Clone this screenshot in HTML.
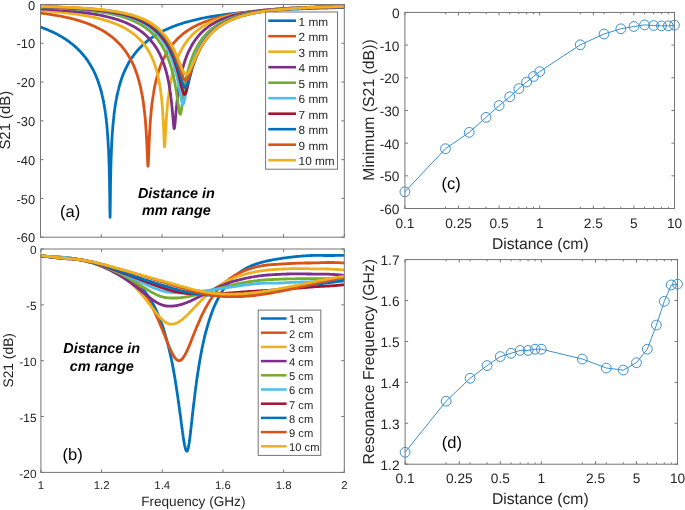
<!DOCTYPE html>
<html><head><meta charset="utf-8"><style>
html,body{margin:0;padding:0;background:#fff;}
body{width:685px;height:510px;overflow:hidden;}
svg{display:block;filter:blur(0.3px);}
text{font-family:"Liberation Sans", sans-serif;text-rendering:geometricPrecision;}
</style></head><body>
<svg width="685" height="510" viewBox="0 0 685 510" font-family='"Liberation Sans", sans-serif'>
<rect width="685" height="510" fill="#fff"/>
<defs><clipPath id="ca"><rect x="40.5" y="3.5" width="303.8" height="233.7"/></clipPath>
<clipPath id="cb"><rect x="40.9" y="248" width="303.4" height="224.4"/></clipPath></defs>
<g clip-path="url(#ca)" fill="none" stroke-width="2.8" stroke-linejoin="round" stroke-linecap="round">
<path d="M40.5 27L41.5 27.4L42.5 27.8L43.5 28.2L44.6 28.6L45.6 29L46.6 29.4L47.6 29.8L48.6 30.2L49.6 30.7L50.6 31.1L51.6 31.6L52.7 32L53.7 32.5L54.7 33L55.7 33.5L56.7 34L57.7 34.6L58.7 35.1L59.7 35.7L60.8 36.3L61.8 36.9L62.8 37.5L63.8 38.1L64.8 38.8L65.8 39.4L66.8 40.1L67.8 40.8L68.9 41.5L69.9 42.3L70.9 43.1L71.9 43.8L72.9 44.7L73.9 45.5L74.9 46.4L75.9 47.3L77 48.2L78 49.2L79 50.2L80 51.3L81 52.3L82 53.5L83 54.6L84 55.9L85.1 57.1L86.1 58.5L87.1 59.9L88.1 61.3L89.1 62.9L90.1 64.5L91.1 66.2L92.1 68L93.2 69.9L94.2 72L95.2 74.1L96.2 76.5L97.2 79L98.2 81.7L99.2 84.7L100.2 88L101 90.5L101.1 91L101.3 91.6L101.4 92.2L101.6 92.8L101.7 93.4L101.9 94L102 94.6L102.2 95.3L102.3 95.7L102.3 95.9L102.5 96.6L102.6 97.3L102.8 98L102.9 98.7L103.1 99.4L103.2 100.1L103.3 100.4L103.4 100.9L103.5 101.6L103.7 102.4L103.8 103.2L104 104.1L104.1 104.9L104.3 105.8L104.4 106.7L104.6 107.6L104.8 108.6L104.9 109.5L105.1 110.5L105.2 111.6L105.3 112.3L105.4 112.6L105.5 113.7L105.7 114.9L105.8 116L106 117.3L106.1 118.5L106.3 119.8L106.3 120.3L106.4 121.2L106.6 122.6L106.7 124.1L106.9 125.7L107 127.3L107.2 129L107.3 130.9L107.5 132.8L107.6 134.8L107.8 137L107.9 139.3L108.1 141.7L108.2 144.4L108.3 146.3L108.4 147.3L108.6 150.4L108.7 153.9L108.9 157.8L109 162.1L109.2 167.1L109.3 172.9L109.4 175L109.5 179.7L109.6 188.1L109.8 198.4L109.9 210.3L110.1 217.4L110.2 208.9L110.4 195.6L110.5 184.7L110.7 176.1L110.8 169.1L111 163.3L111.1 158.3L111.3 153.9L111.4 151.3L111.4 150L111.6 146.5L111.7 143.4L111.9 140.5L112 137.8L112.2 135.3L112.3 133L112.4 132.3L112.5 130.9L112.7 128.8L112.8 126.9L113 125.1L113.1 123.4L113.3 121.7L113.4 120.2L113.6 118.7L113.7 117.3L113.9 115.9L114 114.6L114.2 113.3L114.3 112.1L114.4 111.3L114.5 110.9L114.6 109.8L114.8 108.7L114.9 107.6L115.1 106.6L115.2 105.6L115.4 104.6L115.4 104.3L115.5 103.7L115.7 102.7L115.8 101.8L116 101L116.1 100.1L116.3 99.3L116.5 98.5L116.6 97.7L116.8 96.9L116.9 96.2L117.1 95.4L117.2 94.7L117.4 94L117.5 93.5L117.5 93.3L117.7 92.6L117.8 92L118 91.3L118.1 90.7L118.3 90.1L118.4 89.5L118.5 89.2L118.6 88.8L118.7 88.3L118.9 87.7L119 87.1L119.2 86.5L119.5 85.4L120.5 82L121.5 79L122.5 76.1L123.5 73.5L124.6 71.1L125.6 68.9L126.6 66.8L127.6 64.9L128.6 63L129.6 61.3L130.6 59.7L131.6 58.1L132.7 56.6L133.7 55.2L134.7 53.9L135.7 52.6L136.7 51.4L137.7 50.2L138.7 49.1L139.7 48L140.8 46.9L141.8 45.9L142.8 45L143.8 44L144.8 43.1L145.8 42.3L146.8 41.4L147.8 40.6L148.9 39.8L149.9 39.1L150.9 38.3L151.9 37.6L152.9 36.9L153.9 36.3L154.9 35.6L155.9 35L157 34.4L158 33.8L159 33.2L160 32.6L161 32.1L162 31.6L163 31L164 30.5L165.1 30L166.1 29.6L167.1 29.1L168.1 28.7L169.1 28.2L170.1 27.8L171.1 27.4L172.1 26.9L173.2 26.5L174.2 26.2L175.2 25.8L176.2 25.4L177.2 25L178.2 24.7L179.2 24.3L180.2 24L181.3 23.7L182.3 23.4L183.3 23L184.3 22.7L185.3 22.4L186.3 22.1L187.3 21.9L188.3 21.6L189.4 21.3L190.4 21L191.4 20.8L192.4 20.5L193.4 20.3L194.4 20L195.4 19.8L196.5 19.5L197.5 19.3L198.5 19.1L199.5 18.9L200.5 18.6L201.5 18.4L202.5 18.2L203.5 18L204.6 17.8L205.6 17.6L206.6 17.4L207.6 17.2L208.6 17.1L209.6 16.9L210.6 16.7L211.6 16.5L212.7 16.4L213.7 16.2L214.7 16L215.7 15.9L216.7 15.7L217.7 15.6L218.7 15.4L219.7 15.3L220.8 15.1L221.8 15L222.8 14.8L223.8 14.7L224.8 14.6L225.8 14.4L226.8 14.3L227.8 14.2L228.9 14L229.9 13.9L230.9 13.8L231.9 13.7L232.9 13.6L233.9 13.5L234.9 13.3L235.9 13.2L237 13.1L238 13L239 12.9L240 12.8L241 12.7L242 12.6L243 12.5L244 12.4L245.1 12.3L246.1 12.2L247.1 12.1L248.1 12L249.1 12L250.1 11.9L251.1 11.8L252.1 11.7L253.2 11.6L254.2 11.5L255.2 11.5L256.2 11.4L257.2 11.3L258.2 11.2L259.2 11.1L260.2 11.1L261.3 11L262.3 10.9L263.3 10.9L264.3 10.8L265.3 10.7L266.3 10.6L267.3 10.6L268.4 10.5L269.4 10.5L270.4 10.4L271.4 10.3L272.4 10.3L273.4 10.2L274.4 10.1L275.4 10.1L276.5 10L277.5 10L278.5 9.9L279.5 9.9L280.5 9.8L281.5 9.8L282.5 9.7L283.5 9.6L284.6 9.6L285.6 9.5L286.6 9.5L287.6 9.4L288.6 9.4L289.6 9.3L290.6 9.3L291.6 9.3L292.7 9.2L293.7 9.2L294.7 9.1L295.7 9.1L296.7 9L297.7 9L298.7 8.9L299.7 8.9L300.8 8.9L301.8 8.8L302.8 8.8L303.8 8.7L304.8 8.7L305.8 8.7L306.8 8.6L307.8 8.6L308.9 8.6L309.9 8.5L310.9 8.5L311.9 8.4L312.9 8.4L313.9 8.4L314.9 8.3L315.9 8.3L317 8.3L318 8.2L319 8.2L320 8.2L321 8.1L322 8.1L323 8.1L324 8.1L325.1 8L326.1 8L327.1 8L328.1 7.9L329.1 7.9L330.1 7.9L331.1 7.9L332.1 7.8L333.2 7.8L334.2 7.8L335.2 7.7L336.2 7.7L337.2 7.7L338.2 7.7L339.2 7.6L340.2 7.6L341.3 7.6L342.3 7.6L343.3 7.5L344.3 7.5" stroke="#0072BD"/>
<path d="M40.5 13.1L41.5 13.2L42.5 13.3L43.5 13.4L44.6 13.6L45.6 13.7L46.6 13.9L47.6 14L48.6 14.2L49.6 14.3L50.6 14.5L51.6 14.6L52.7 14.8L53.7 15L54.7 15.1L55.7 15.3L56.7 15.5L57.7 15.7L58.7 15.8L59.7 16L60.8 16.2L61.8 16.4L62.8 16.6L63.8 16.8L64.8 17L65.8 17.3L66.8 17.5L67.8 17.7L68.9 17.9L69.9 18.2L70.9 18.4L71.9 18.7L72.9 18.9L73.9 19.2L74.9 19.5L75.9 19.8L77 20L78 20.3L79 20.6L80 20.9L81 21.3L82 21.6L83 21.9L84 22.3L85.1 22.6L86.1 23L87.1 23.3L88.1 23.7L89.1 24.1L90.1 24.5L91.1 24.9L92.1 25.4L93.2 25.8L94.2 26.3L95.2 26.7L96.2 27.2L97.2 27.7L98.2 28.2L99.2 28.7L100.2 29.3L101.3 29.8L102.3 30.4L103.3 31L104.3 31.6L105.3 32.2L106.3 32.9L107.3 33.6L108.3 34.3L109.4 35L110.4 35.8L111.4 36.5L112.4 37.3L113.4 38.2L114.4 39L115.4 39.9L116.5 40.9L117.5 41.9L118.5 42.9L119.5 43.9L120.5 45L121.5 46.2L122.5 47.4L123.5 48.6L124.6 50L125.6 51.3L126.6 52.8L127.6 54.3L128.6 56L129.6 57.7L130.6 59.5L131.6 61.5L132.7 63.5L133.7 65.7L134.7 68.1L135.7 70.7L136.7 73.5L137.7 76.6L138.7 80.1L138.9 80.8L139.1 81.3L139.2 81.9L139.4 82.5L139.5 83.1L139.7 83.7L139.7 83.9L139.8 84.3L140 84.9L140.1 85.5L140.3 86.2L140.5 86.8L140.6 87.5L140.8 88.2L140.9 88.9L141.1 89.6L141.2 90.3L141.4 91.1L141.5 91.8L141.7 92.6L141.8 93.1L141.8 93.4L142 94.2L142.1 95L142.3 95.9L142.4 96.8L142.6 97.7L142.7 98.6L142.8 98.9L142.9 99.6L143 100.6L143.2 101.6L143.3 102.6L143.5 103.7L143.6 104.8L143.8 105.9L143.9 107.1L144.1 108.4L144.2 109.6L144.4 111L144.6 112.3L144.7 113.8L144.8 114.7L144.9 115.3L145 116.8L145.2 118.4L145.3 120.1L145.5 121.9L145.6 123.8L145.8 125.8L145.8 126.5L145.9 127.9L146.1 130.1L146.2 132.5L146.4 135L146.5 137.7L146.7 140.5L146.8 143.5L147 146.7L147.1 150.1L147.3 153.6L147.4 157.2L147.6 160.5L147.7 163.5L147.8 164.9L147.9 165.5L148 166.2L148.2 165.3L148.3 162.7L148.5 159.1L148.7 155.1L148.8 151L148.9 149.7L149 147.1L149.1 143.4L149.3 139.9L149.4 136.7L149.6 133.7L149.7 131L149.9 128.4L150 125.9L150.2 123.7L150.3 121.5L150.5 119.5L150.6 117.6L150.8 115.7L150.9 114.6L150.9 114L151.1 112.4L151.2 110.8L151.4 109.3L151.5 107.8L151.7 106.4L151.8 105.1L151.9 104.7L152 103.8L152.1 102.6L152.3 101.4L152.5 100.2L152.6 99.1L152.8 98L152.9 97L153.1 96L153.2 95L153.4 94L153.5 93.1L153.7 92.2L153.8 91.3L153.9 90.7L154 90.5L154.1 89.6L154.3 88.8L154.4 88L154.6 87.2L154.7 86.5L154.9 85.7L154.9 85.5L155 85L155.2 84.3L155.3 83.6L155.5 82.9L155.6 82.2L155.8 81.6L155.9 80.9L156.1 80.3L156.2 79.7L156.4 79.1L156.6 78.5L156.7 77.9L156.9 77.3L157 76.9L157 76.7L157.2 76.2L158 73.4L159 70.2L160 67.3L161 64.6L162 62.1L163 59.9L164 57.8L165.1 55.8L166.1 53.9L167.1 52.2L168.1 50.6L169.1 49L170.1 47.6L171.1 46.2L172.1 44.9L173.2 43.6L174.2 42.4L175.2 41.3L176.2 40.2L177.2 39.1L178.2 38.1L179.2 37.2L180.2 36.3L181.3 35.4L182.3 34.5L183.3 33.7L184.3 32.9L185.3 32.2L186.3 31.5L187.3 30.8L188.3 30.1L189.4 29.4L190.4 28.8L191.4 28.2L192.4 27.6L193.4 27.1L194.4 26.5L195.4 26L196.5 25.5L197.5 25L198.5 24.5L199.5 24.1L200.5 23.6L201.5 23.2L202.5 22.7L203.5 22.3L204.6 21.9L205.6 21.6L206.6 21.2L207.6 20.8L208.6 20.5L209.6 20.1L210.6 19.8L211.6 19.5L212.7 19.2L213.7 18.9L214.7 18.6L215.7 18.3L216.7 18L217.7 17.7L218.7 17.5L219.7 17.2L220.8 17L221.8 16.7L222.8 16.5L223.8 16.3L224.8 16L225.8 15.8L226.8 15.6L227.8 15.4L228.9 15.2L229.9 15L230.9 14.8L231.9 14.6L232.9 14.5L233.9 14.3L234.9 14.1L235.9 13.9L237 13.8L238 13.6L239 13.5L240 13.3L241 13.2L242 13L243 12.9L244 12.7L245.1 12.6L246.1 12.5L247.1 12.3L248.1 12.2L249.1 12.1L250.1 12L251.1 11.8L252.1 11.7L253.2 11.6L254.2 11.5L255.2 11.4L256.2 11.3L257.2 11.2L258.2 11.1L259.2 11L260.2 10.9L261.3 10.8L262.3 10.7L263.3 10.6L264.3 10.5L265.3 10.4L266.3 10.3L267.3 10.3L268.4 10.2L269.4 10.1L270.4 10L271.4 9.9L272.4 9.9L273.4 9.8L274.4 9.7L275.4 9.6L276.5 9.6L277.5 9.5L278.5 9.4L279.5 9.4L280.5 9.3L281.5 9.2L282.5 9.2L283.5 9.1L284.6 9.1L285.6 9L286.6 8.9L287.6 8.9L288.6 8.8L289.6 8.8L290.6 8.7L291.6 8.7L292.7 8.6L293.7 8.6L294.7 8.5L295.7 8.5L296.7 8.4L297.7 8.4L298.7 8.3L299.7 8.3L300.8 8.2L301.8 8.2L302.8 8.2L303.8 8.1L304.8 8.1L305.8 8L306.8 8L307.8 7.9L308.9 7.9L309.9 7.9L310.9 7.8L311.9 7.8L312.9 7.8L313.9 7.7L314.9 7.7L315.9 7.7L317 7.6L318 7.6L319 7.6L320 7.5L321 7.5L322 7.5L323 7.4L324 7.4L325.1 7.4L326.1 7.3L327.1 7.3L328.1 7.3L329.1 7.2L330.1 7.2L331.1 7.2L332.1 7.2L333.2 7.1L334.2 7.1L335.2 7.1L336.2 7.1L337.2 7L338.2 7L339.2 7L340.2 7L341.3 6.9L342.3 6.9L343.3 6.9L344.3 6.9" stroke="#D95319"/>
<path d="M40.5 10.6L41.5 10.7L42.5 10.7L43.5 10.8L44.6 10.9L45.6 11L46.6 11L47.6 11.1L48.6 11.2L49.6 11.3L50.6 11.4L51.6 11.5L52.7 11.5L53.7 11.6L54.7 11.7L55.7 11.8L56.7 11.9L57.7 12L58.7 12.1L59.7 12.2L60.8 12.3L61.8 12.4L62.8 12.5L63.8 12.6L64.8 12.8L65.8 12.9L66.8 13L67.8 13.1L68.9 13.2L69.9 13.4L70.9 13.5L71.9 13.6L72.9 13.8L73.9 13.9L74.9 14L75.9 14.2L77 14.3L78 14.5L79 14.6L80 14.8L81 14.9L82 15.1L83 15.3L84 15.4L85.1 15.6L86.1 15.8L87.1 16L88.1 16.2L89.1 16.4L90.1 16.6L91.1 16.8L92.1 17L93.2 17.2L94.2 17.4L95.2 17.6L96.2 17.9L97.2 18.1L98.2 18.4L99.2 18.6L100.2 18.9L101.3 19.1L102.3 19.4L103.3 19.7L104.3 20L105.3 20.3L106.3 20.6L107.3 20.9L108.3 21.2L109.4 21.6L110.4 21.9L111.4 22.3L112.4 22.6L113.4 23L114.4 23.4L115.4 23.8L116.5 24.2L117.5 24.6L118.5 25.1L119.5 25.5L120.5 26L121.5 26.5L122.5 27L123.5 27.5L124.6 28.1L125.6 28.6L126.6 29.2L127.6 29.8L128.6 30.5L129.6 31.1L130.6 31.8L131.6 32.5L132.7 33.2L133.7 34L134.7 34.8L135.7 35.7L136.7 36.5L137.7 37.5L138.7 38.4L139.7 39.4L140.8 40.5L141.8 41.6L142.8 42.8L143.8 44L144.8 45.4L145.8 46.8L146.8 48.2L147.8 49.8L148.9 51.5L149.9 53.4L150.9 55.3L151.9 57.5L152.9 59.8L153.9 62.3L154.9 65.2L155.3 66.4L155.5 66.9L155.6 67.3L155.8 67.8L155.9 68.3L156.1 68.8L156.2 69.3L156.4 69.9L156.6 70.4L156.7 70.9L156.9 71.5L157 71.9L157 72.1L157.2 72.6L157.3 73.2L157.5 73.8L157.6 74.5L157.8 75.1L157.9 75.7L158 76L158.1 76.4L158.2 77.1L158.4 77.8L158.5 78.5L158.7 79.2L158.8 80L159 80.7L159.1 81.5L159.3 82.3L159.4 83.2L159.6 84L159.7 84.9L159.9 85.8L160 86.5L160 86.8L160.2 87.8L160.3 88.8L160.5 89.8L160.7 90.9L160.8 92.1L161 93.2L161 93.6L161.1 94.5L161.3 95.7L161.4 97.1L161.6 98.5L161.7 100L161.9 101.5L162 103.1L162.2 104.8L162.3 106.7L162.5 108.6L162.6 110.7L162.8 112.9L162.9 115.2L163 116.9L163.1 117.8L163.2 120.5L163.4 123.5L163.5 126.7L163.7 130.2L163.8 134L164 137.9L164 139.2L164.1 141.8L164.3 145.1L164.5 146.8L164.6 146.4L164.8 145.1L164.9 143.1L165.1 140.7L165.2 138.1L165.4 135.3L165.5 132.5L165.7 129.8L165.8 127.2L166 124.7L166.1 123.1L166.1 122.3L166.3 120L166.4 117.8L166.6 115.7L166.7 113.8L166.9 111.9L167 110.1L167.1 109.5L167.2 108.4L167.3 106.7L167.5 105.1L167.6 103.6L167.8 102.2L167.9 100.8L168.1 99.5L168.2 98.2L168.4 96.9L168.6 95.7L168.7 94.6L168.9 93.4L169 92.3L169.1 91.6L169.2 91.3L169.3 90.3L169.5 89.3L169.6 88.3L169.8 87.4L169.9 86.4L170.1 85.6L170.1 85.3L170.2 84.7L170.4 83.8L170.5 83L170.7 82.2L170.8 81.4L171 80.6L171.1 79.9L171.3 79.2L171.4 78.4L171.6 77.7L171.7 77.1L171.9 76.4L172 75.7L172.1 75.3L172.2 75.1L172.3 74.4L172.5 73.8L172.7 73.2L172.8 72.6L173 72L173.1 71.4L173.2 71.2L173.3 70.9L173.4 70.3L173.6 69.8L174.2 67.6L175.2 64.4L176.2 61.5L177.2 58.8L178.2 56.4L179.2 54.1L180.2 52L181.3 50.1L182.3 48.2L183.3 46.5L184.3 44.9L185.3 43.4L186.3 42L187.3 40.6L188.3 39.3L189.4 38.1L190.4 37L191.4 35.9L192.4 34.8L193.4 33.8L194.4 32.9L195.4 32L196.5 31.1L197.5 30.3L198.5 29.5L199.5 28.8L200.5 28L201.5 27.3L202.5 26.7L203.5 26L204.6 25.4L205.6 24.8L206.6 24.2L207.6 23.7L208.6 23.2L209.6 22.7L210.6 22.2L211.6 21.7L212.7 21.2L213.7 20.8L214.7 20.4L215.7 20L216.7 19.6L217.7 19.2L218.7 18.8L219.7 18.5L220.8 18.1L221.8 17.8L222.8 17.5L223.8 17.2L224.8 16.9L225.8 16.6L226.8 16.3L227.8 16L228.9 15.8L229.9 15.5L230.9 15.3L231.9 15L232.9 14.8L233.9 14.6L234.9 14.4L235.9 14.2L237 13.9L238 13.7L239 13.6L240 13.4L241 13.2L242 13L243 12.8L244 12.7L245.1 12.5L246.1 12.4L247.1 12.2L248.1 12L249.1 11.9L250.1 11.8L251.1 11.6L252.1 11.5L253.2 11.4L254.2 11.2L255.2 11.1L256.2 11L257.2 10.9L258.2 10.8L259.2 10.6L260.2 10.5L261.3 10.4L262.3 10.3L263.3 10.2L264.3 10.1L265.3 10L266.3 9.9L267.3 9.8L268.4 9.8L269.4 9.7L270.4 9.6L271.4 9.5L272.4 9.4L273.4 9.3L274.4 9.3L275.4 9.2L276.5 9.1L277.5 9L278.5 9L279.5 8.9L280.5 8.8L281.5 8.8L282.5 8.7L283.5 8.6L284.6 8.6L285.6 8.5L286.6 8.5L287.6 8.4L288.6 8.3L289.6 8.3L290.6 8.2L291.6 8.2L292.7 8.1L293.7 8.1L294.7 8L295.7 8L296.7 7.9L297.7 7.9L298.7 7.8L299.7 7.8L300.8 7.8L301.8 7.7L302.8 7.7L303.8 7.6L304.8 7.6L305.8 7.5L306.8 7.5L307.8 7.5L308.9 7.4L309.9 7.4L310.9 7.4L311.9 7.3L312.9 7.3L313.9 7.2L314.9 7.2L315.9 7.2L317 7.1L318 7.1L319 7.1L320 7.1L321 7L322 7L323 7L324 6.9L325.1 6.9L326.1 6.9L327.1 6.8L328.1 6.8L329.1 6.8L330.1 6.8L331.1 6.7L332.1 6.7L333.2 6.7L334.2 6.7L335.2 6.6L336.2 6.6L337.2 6.6L338.2 6.6L339.2 6.6L340.2 6.5L341.3 6.5L342.3 6.5L343.3 6.5L344.3 6.4" stroke="#EDB120"/>
<path d="M40.5 8.9L41.5 8.9L42.5 9L43.5 9.1L44.6 9.1L45.6 9.2L46.6 9.2L47.6 9.3L48.6 9.4L49.6 9.4L50.6 9.5L51.6 9.5L52.7 9.6L53.7 9.7L54.7 9.8L55.7 9.8L56.7 9.9L57.7 10L58.7 10L59.7 10.1L60.8 10.2L61.8 10.3L62.8 10.4L63.8 10.5L64.8 10.5L65.8 10.6L66.8 10.7L67.8 10.8L68.9 10.9L69.9 11L70.9 11.1L71.9 11.2L72.9 11.3L73.9 11.4L74.9 11.5L75.9 11.6L77 11.7L78 11.8L79 12L80 12.1L81 12.2L82 12.3L83 12.5L84 12.6L85.1 12.7L86.1 12.9L87.1 13L88.1 13.2L89.1 13.3L90.1 13.5L91.1 13.6L92.1 13.8L93.2 13.9L94.2 14.1L95.2 14.3L96.2 14.5L97.2 14.6L98.2 14.8L99.2 15L100.2 15.2L101.3 15.4L102.3 15.6L103.3 15.8L104.3 16.1L105.3 16.3L106.3 16.5L107.3 16.8L108.3 17L109.4 17.3L110.4 17.5L111.4 17.8L112.4 18.1L113.4 18.4L114.4 18.7L115.4 19L116.5 19.3L117.5 19.6L118.5 19.9L119.5 20.3L120.5 20.6L121.5 21L122.5 21.4L123.5 21.8L124.6 22.2L125.6 22.6L126.6 23L127.6 23.5L128.6 24L129.6 24.4L130.6 24.9L131.6 25.5L132.7 26L133.7 26.6L134.7 27.1L135.7 27.7L136.7 28.4L137.7 29L138.7 29.7L139.7 30.4L140.8 31.1L141.8 31.9L142.8 32.7L143.8 33.5L144.8 34.4L145.8 35.3L146.8 36.2L147.8 37.2L148.9 38.3L149.9 39.4L150.9 40.6L151.9 41.8L152.9 43.1L153.9 44.4L154.9 45.9L155.9 47.4L157 49L158 50.8L159 52.7L160 54.7L161 56.8L162 59.2L163 61.8L164 64.6L165.1 67.7L165.2 68.2L165.4 68.7L165.5 69.2L165.7 69.8L165.8 70.3L166 70.8L166.1 71.2L166.1 71.4L166.3 72L166.4 72.5L166.6 73.1L166.7 73.7L166.9 74.3L167 74.9L167.1 75.1L167.2 75.6L167.3 76.2L167.5 76.9L167.6 77.5L167.8 78.2L167.9 78.9L168.1 79.7L168.2 80.4L168.4 81.1L168.6 81.9L168.7 82.7L168.9 83.5L169 84.4L169.1 84.9L169.2 85.2L169.3 86.1L169.5 87L169.6 87.9L169.8 88.9L169.9 89.9L170.1 90.9L170.1 91.2L170.2 91.9L170.4 93L170.5 94.1L170.7 95.2L170.8 96.4L171 97.6L171.1 98.9L171.3 100.2L171.4 101.6L171.6 103L171.7 104.4L171.9 105.9L172 107.5L172.1 108.6L172.2 109.1L172.3 110.8L172.5 112.5L172.7 114.3L172.8 116.1L173 117.9L173.1 119.7L173.2 120.3L173.3 121.5L173.4 123.3L173.6 124.9L173.7 126.3L173.9 127.5L174 128.3L174.2 128.6L174.3 128.4L174.5 127.9L174.6 127L174.8 125.8L174.9 124.4L175.1 122.8L175.2 121.7L175.2 121.2L175.4 119.4L175.5 117.6L175.7 115.9L175.8 114.1L176 112.3L176.1 110.6L176.2 110L176.3 108.9L176.5 107.3L176.6 105.7L176.8 104.2L176.9 102.7L177.1 101.2L177.2 99.8L177.4 98.5L177.5 97.2L177.7 95.9L177.8 94.7L178 93.5L178.1 92.3L178.2 91.6L178.3 91.2L178.4 90.1L178.6 89.1L178.7 88L178.9 87L179 86.1L179.2 85.1L179.2 84.8L179.3 84.2L179.5 83.3L179.6 82.4L179.8 81.5L179.9 80.7L180.1 79.9L180.2 79.1L180.4 78.3L180.6 77.6L180.7 76.8L180.9 76.1L181 75.4L181.2 74.7L181.3 74.2L181.3 74L181.5 73.3L181.6 72.6L181.8 72L181.9 71.4L182.1 70.7L182.2 70.1L182.3 69.9L182.4 69.5L182.5 69L182.7 68.4L182.8 67.8L183 67.3L183.1 66.7L183.3 66.2L184.3 62.8L185.3 59.7L186.3 57L187.3 54.4L188.3 52.1L189.4 50L190.4 48L191.4 46.1L192.4 44.3L193.4 42.7L194.4 41.2L195.4 39.7L196.5 38.4L197.5 37.1L198.5 35.9L199.5 34.7L200.5 33.6L201.5 32.6L202.5 31.6L203.5 30.7L204.6 29.8L205.6 28.9L206.6 28.1L207.6 27.4L208.6 26.6L209.6 25.9L210.6 25.2L211.6 24.6L212.7 24L213.7 23.4L214.7 22.8L215.7 22.3L216.7 21.7L217.7 21.2L218.7 20.7L219.7 20.3L220.8 19.8L221.8 19.4L222.8 19L223.8 18.6L224.8 18.2L225.8 17.8L226.8 17.5L227.8 17.1L228.9 16.8L229.9 16.5L230.9 16.2L231.9 15.9L232.9 15.6L233.9 15.3L234.9 15.1L235.9 14.8L237 14.6L238 14.3L239 14.1L240 13.9L241 13.7L242 13.4L243 13.2L244 13L245.1 12.8L246.1 12.7L247.1 12.5L248.1 12.3L249.1 12.1L250.1 12L251.1 11.8L252.1 11.7L253.2 11.5L254.2 11.4L255.2 11.2L256.2 11.1L257.2 11L258.2 10.8L259.2 10.7L260.2 10.6L261.3 10.5L262.3 10.4L263.3 10.2L264.3 10.1L265.3 10L266.3 9.9L267.3 9.8L268.4 9.7L269.4 9.6L270.4 9.5L271.4 9.4L272.4 9.4L273.4 9.3L274.4 9.2L275.4 9.1L276.5 9L277.5 8.9L278.5 8.9L279.5 8.8L280.5 8.7L281.5 8.7L282.5 8.6L283.5 8.5L284.6 8.5L285.6 8.4L286.6 8.3L287.6 8.3L288.6 8.2L289.6 8.2L290.6 8.1L291.6 8L292.7 8L293.7 7.9L294.7 7.9L295.7 7.8L296.7 7.8L297.7 7.7L298.7 7.7L299.7 7.6L300.8 7.6L301.8 7.5L302.8 7.5L303.8 7.5L304.8 7.4L305.8 7.4L306.8 7.3L307.8 7.3L308.9 7.3L309.9 7.2L310.9 7.2L311.9 7.1L312.9 7.1L313.9 7.1L314.9 7L315.9 7L317 7L318 6.9L319 6.9L320 6.9L321 6.8L322 6.8L323 6.8L324 6.8L325.1 6.7L326.1 6.7L327.1 6.7L328.1 6.6L329.1 6.6L330.1 6.6L331.1 6.6L332.1 6.5L333.2 6.5L334.2 6.5L335.2 6.5L336.2 6.5L337.2 6.4L338.2 6.4L339.2 6.4L340.2 6.4L341.3 6.3L342.3 6.3L343.3 6.3L344.3 6.3" stroke="#7E2F8E"/>
<path d="M40.5 7.3L41.5 7.4L42.5 7.4L43.5 7.5L44.6 7.5L45.6 7.5L46.6 7.6L47.6 7.6L48.6 7.7L49.6 7.7L50.6 7.8L51.6 7.8L52.7 7.9L53.7 7.9L54.7 8L55.7 8L56.7 8.1L57.7 8.1L58.7 8.2L59.7 8.2L60.8 8.3L61.8 8.3L62.8 8.4L63.8 8.5L64.8 8.5L65.8 8.6L66.8 8.6L67.8 8.7L68.9 8.8L69.9 8.8L70.9 8.9L71.9 9L72.9 9.1L73.9 9.1L74.9 9.2L75.9 9.3L77 9.4L78 9.5L79 9.6L80 9.6L81 9.7L82 9.8L83 9.9L84 10L85.1 10.1L86.1 10.2L87.1 10.3L88.1 10.4L89.1 10.5L90.1 10.7L91.1 10.8L92.1 10.9L93.2 11L94.2 11.1L95.2 11.3L96.2 11.4L97.2 11.6L98.2 11.7L99.2 11.8L100.2 12L101.3 12.1L102.3 12.3L103.3 12.5L104.3 12.6L105.3 12.8L106.3 13L107.3 13.2L108.3 13.4L109.4 13.6L110.4 13.8L111.4 14L112.4 14.2L113.4 14.4L114.4 14.7L115.4 14.9L116.5 15.1L117.5 15.4L118.5 15.7L119.5 15.9L120.5 16.2L121.5 16.5L122.5 16.8L123.5 17.1L124.6 17.4L125.6 17.8L126.6 18.1L127.6 18.5L128.6 18.8L129.6 19.2L130.6 19.6L131.6 20L132.7 20.5L133.7 20.9L134.7 21.4L135.7 21.9L136.7 22.4L137.7 22.9L138.7 23.4L139.7 24L140.8 24.6L141.8 25.2L142.8 25.8L143.8 26.5L144.8 27.2L145.8 27.9L146.8 28.7L147.8 29.5L148.9 30.3L149.9 31.1L150.9 32.1L151.9 33L152.9 34L153.9 35.1L154.9 36.2L155.9 37.3L157 38.5L158 39.8L159 41.2L160 42.7L161 44.2L162 45.8L163 47.6L164 49.4L165.1 51.4L166.1 53.5L167.1 55.8L168.1 58.3L169.1 61.1L170.1 64L171.1 67.3L171.3 67.8L171.4 68.3L171.6 68.9L171.7 69.4L171.9 70L172 70.5L172.1 70.9L172.2 71.1L172.3 71.7L172.5 72.3L172.7 72.9L172.8 73.5L173 74.1L173.1 74.7L173.2 75L173.3 75.4L173.4 76L173.6 76.7L173.7 77.4L173.9 78.1L174 78.8L174.2 79.5L174.3 80.3L174.5 81L174.6 81.8L174.8 82.5L174.9 83.3L175.1 84.1L175.2 84.7L175.2 85L175.4 85.8L175.5 86.7L175.7 87.6L175.8 88.5L176 89.4L176.1 90.3L176.2 90.6L176.3 91.3L176.5 92.2L176.6 93.2L176.8 94.2L176.9 95.2L177.1 96.3L177.2 97.3L177.4 98.4L177.5 99.5L177.7 100.6L177.8 101.7L178 102.8L178.1 103.9L178.2 104.6L178.3 105L178.4 106.1L178.6 107.2L178.7 108.2L178.9 109.2L179 110.1L179.2 111L179.2 111.3L179.3 111.8L179.5 112.5L179.6 113.1L179.8 113.6L179.9 114L180.1 114.2L180.2 114.3L180.4 114.2L180.6 113.9L180.7 113.5L180.9 113L181 112.3L181.2 111.6L181.3 111L181.3 110.7L181.5 109.7L181.6 108.7L181.8 107.6L181.9 106.5L182.1 105.4L182.2 104.2L182.3 103.8L182.4 103.1L182.5 101.9L182.7 100.7L182.8 99.6L183 98.4L183.1 97.3L183.3 96.2L183.4 95.1L183.6 94L183.7 93L183.9 91.9L184 90.9L184.2 89.9L184.3 89.3L184.3 88.9L184.5 88L184.7 87.1L184.8 86.1L185 85.2L185.1 84.4L185.3 83.5L185.3 83.2L185.4 82.7L185.6 81.8L185.7 81L185.9 80.3L186 79.5L186.2 78.7L186.3 78L186.5 77.2L186.6 76.5L186.8 75.8L186.9 75.1L187.1 74.5L187.2 73.8L187.3 73.4L187.4 73.2L187.5 72.5L187.7 71.9L187.8 71.3L188 70.7L188.1 70.1L188.3 69.5L188.3 69.3L188.5 68.9L188.6 68.4L188.8 67.8L188.9 67.2L189.1 66.7L189.2 66.2L189.4 65.7L190.4 62.4L191.4 59.4L192.4 56.7L193.4 54.2L194.4 51.9L195.4 49.8L196.5 47.8L197.5 46L198.5 44.2L199.5 42.6L200.5 41.1L201.5 39.7L202.5 38.3L203.5 37L204.6 35.8L205.6 34.7L206.6 33.6L207.6 32.6L208.6 31.6L209.6 30.6L210.6 29.8L211.6 28.9L212.7 28.1L213.7 27.3L214.7 26.6L215.7 25.9L216.7 25.2L217.7 24.6L218.7 24L219.7 23.4L220.8 22.8L221.8 22.2L222.8 21.7L223.8 21.2L224.8 20.7L225.8 20.3L226.8 19.8L227.8 19.4L228.9 19L229.9 18.6L230.9 18.2L231.9 17.8L232.9 17.5L233.9 17.1L234.9 16.8L235.9 16.5L237 16.2L238 15.9L239 15.6L240 15.3L241 15.1L242 14.8L243 14.6L244 14.3L245.1 14.1L246.1 13.9L247.1 13.7L248.1 13.4L249.1 13.2L250.1 13L251.1 12.9L252.1 12.7L253.2 12.5L254.2 12.3L255.2 12.1L256.2 12L257.2 11.8L258.2 11.7L259.2 11.5L260.2 11.4L261.3 11.2L262.3 11.1L263.3 11L264.3 10.8L265.3 10.7L266.3 10.6L267.3 10.5L268.4 10.4L269.4 10.2L270.4 10.1L271.4 10L272.4 9.9L273.4 9.8L274.4 9.7L275.4 9.6L276.5 9.5L277.5 9.4L278.5 9.4L279.5 9.3L280.5 9.2L281.5 9.1L282.5 9L283.5 9L284.6 8.9L285.6 8.8L286.6 8.7L287.6 8.7L288.6 8.6L289.6 8.5L290.6 8.5L291.6 8.4L292.7 8.3L293.7 8.3L294.7 8.2L295.7 8.2L296.7 8.1L297.7 8L298.7 8L299.7 7.9L300.8 7.9L301.8 7.8L302.8 7.8L303.8 7.7L304.8 7.7L305.8 7.6L306.8 7.6L307.8 7.5L308.9 7.5L309.9 7.5L310.9 7.4L311.9 7.4L312.9 7.3L313.9 7.3L314.9 7.3L315.9 7.2L317 7.2L318 7.1L319 7.1L320 7.1L321 7L322 7L323 7L324 6.9L325.1 6.9L326.1 6.9L327.1 6.8L328.1 6.8L329.1 6.8L330.1 6.8L331.1 6.7L332.1 6.7L333.2 6.7L334.2 6.7L335.2 6.6L336.2 6.6L337.2 6.6L338.2 6.5L339.2 6.5L340.2 6.5L341.3 6.5L342.3 6.5L343.3 6.4L344.3 6.4" stroke="#77AC30"/>
<path d="M40.5 7L41.5 7L42.5 7.1L43.5 7.1L44.6 7.1L45.6 7.2L46.6 7.2L47.6 7.3L48.6 7.3L49.6 7.3L50.6 7.4L51.6 7.4L52.7 7.5L53.7 7.5L54.7 7.5L55.7 7.6L56.7 7.6L57.7 7.7L58.7 7.7L59.7 7.8L60.8 7.8L61.8 7.9L62.8 7.9L63.8 8L64.8 8L65.8 8.1L66.8 8.1L67.8 8.2L68.9 8.3L69.9 8.3L70.9 8.4L71.9 8.5L72.9 8.5L73.9 8.6L74.9 8.7L75.9 8.7L77 8.8L78 8.9L79 8.9L80 9L81 9.1L82 9.2L83 9.3L84 9.3L85.1 9.4L86.1 9.5L87.1 9.6L88.1 9.7L89.1 9.8L90.1 9.9L91.1 10L92.1 10.1L93.2 10.2L94.2 10.3L95.2 10.4L96.2 10.6L97.2 10.7L98.2 10.8L99.2 10.9L100.2 11.1L101.3 11.2L102.3 11.3L103.3 11.5L104.3 11.6L105.3 11.8L106.3 11.9L107.3 12.1L108.3 12.3L109.4 12.4L110.4 12.6L111.4 12.8L112.4 13L113.4 13.2L114.4 13.4L115.4 13.6L116.5 13.8L117.5 14L118.5 14.2L119.5 14.5L120.5 14.7L121.5 15L122.5 15.2L123.5 15.5L124.6 15.8L125.6 16.1L126.6 16.4L127.6 16.7L128.6 17L129.6 17.3L130.6 17.7L131.6 18L132.7 18.4L133.7 18.8L134.7 19.2L135.7 19.6L136.7 20.1L137.7 20.5L138.7 21L139.7 21.5L140.8 22L141.8 22.5L142.8 23.1L143.8 23.6L144.8 24.2L145.8 24.9L146.8 25.5L147.8 26.2L148.9 26.9L149.9 27.7L150.9 28.4L151.9 29.3L152.9 30.1L153.9 31L154.9 32L155.9 32.9L157 34L158 35.1L159 36.2L160 37.5L161 38.7L162 40.1L163 41.6L164 43.1L165.1 44.7L166.1 46.5L167.1 48.3L168.1 50.3L169.1 52.4L170.1 54.7L171.1 57.2L172.1 59.9L173.2 62.9L173.9 65.1L174 65.6L174.2 66.1L174.3 66.6L174.5 67.1L174.6 67.7L174.8 68.2L174.9 68.7L175.1 69.3L175.2 69.7L175.2 69.9L175.4 70.4L175.5 71L175.7 71.6L175.8 72.2L176 72.8L176.1 73.4L176.2 73.6L176.3 74L176.5 74.7L176.6 75.3L176.8 76L176.9 76.6L177.1 77.3L177.2 78L177.4 78.7L177.5 79.4L177.7 80.1L177.8 80.8L178 81.6L178.1 82.3L178.2 82.8L178.3 83.1L178.4 83.9L178.6 84.7L178.7 85.5L178.9 86.3L179 87.1L179.2 87.9L179.2 88.2L179.3 88.8L179.5 89.6L179.6 90.4L179.8 91.3L179.9 92.2L180.1 93L180.2 93.9L180.4 94.7L180.6 95.6L180.7 96.4L180.9 97.2L181 98L181.2 98.8L181.3 99.3L181.3 99.6L181.5 100.3L181.6 100.9L181.8 101.6L181.9 102.1L182.1 102.7L182.2 103.1L182.3 103.2L182.4 103.5L182.5 103.8L182.7 104L182.8 104.1L183 104.2L183.1 104.1L183.3 104L183.4 103.8L183.6 103.5L183.7 103.1L183.9 102.6L184 102.1L184.2 101.5L184.3 101.1L184.3 100.9L184.5 100.2L184.7 99.4L184.8 98.7L185 97.9L185.1 97.1L185.3 96.2L185.3 96L185.4 95.4L185.6 94.5L185.7 93.7L185.9 92.8L186 91.9L186.2 91.1L186.3 90.2L186.5 89.3L186.6 88.5L186.8 87.7L186.9 86.8L187.1 86L187.2 85.2L187.3 84.6L187.4 84.4L187.5 83.6L187.7 82.8L187.8 82L188 81.3L188.1 80.5L188.3 79.8L188.3 79.5L188.5 79.1L188.6 78.4L188.8 77.7L188.9 77L189.1 76.3L189.2 75.6L189.4 75L189.5 74.3L189.7 73.7L189.8 73L190 72.4L190.1 71.8L190.3 71.2L190.4 70.8L190.4 70.6L190.6 70.1L190.7 69.5L190.9 68.9L191 68.4L191.2 67.8L191.3 67.3L191.4 67.1L191.5 66.8L191.6 66.2L191.8 65.7L191.9 65.2L192.1 64.7L192.4 63.8L193.4 60.7L194.4 57.9L195.4 55.3L196.5 53L197.5 50.8L198.5 48.7L199.5 46.8L200.5 45L201.5 43.4L202.5 41.8L203.5 40.3L204.6 38.9L205.6 37.6L206.6 36.4L207.6 35.2L208.6 34.1L209.6 33L210.6 32L211.6 31L212.7 30.1L213.7 29.3L214.7 28.4L215.7 27.6L216.7 26.9L217.7 26.2L218.7 25.5L219.7 24.8L220.8 24.2L221.8 23.6L222.8 23L223.8 22.4L224.8 21.9L225.8 21.4L226.8 20.9L227.8 20.4L228.9 20L229.9 19.5L230.9 19.1L231.9 18.7L232.9 18.3L233.9 18L234.9 17.6L235.9 17.2L237 16.9L238 16.6L239 16.3L240 16L241 15.7L242 15.4L243 15.1L244 14.9L245.1 14.6L246.1 14.4L247.1 14.1L248.1 13.9L249.1 13.7L250.1 13.5L251.1 13.3L252.1 13.1L253.2 12.9L254.2 12.7L255.2 12.5L256.2 12.3L257.2 12.2L258.2 12L259.2 11.8L260.2 11.7L261.3 11.5L262.3 11.4L263.3 11.2L264.3 11.1L265.3 11L266.3 10.8L267.3 10.7L268.4 10.6L269.4 10.5L270.4 10.4L271.4 10.2L272.4 10.1L273.4 10L274.4 9.9L275.4 9.8L276.5 9.7L277.5 9.6L278.5 9.5L279.5 9.4L280.5 9.4L281.5 9.3L282.5 9.2L283.5 9.1L284.6 9L285.6 8.9L286.6 8.9L287.6 8.8L288.6 8.7L289.6 8.7L290.6 8.6L291.6 8.5L292.7 8.5L293.7 8.4L294.7 8.3L295.7 8.3L296.7 8.2L297.7 8.1L298.7 8.1L299.7 8L300.8 8L301.8 7.9L302.8 7.9L303.8 7.8L304.8 7.8L305.8 7.7L306.8 7.7L307.8 7.6L308.9 7.6L309.9 7.5L310.9 7.5L311.9 7.5L312.9 7.4L313.9 7.4L314.9 7.3L315.9 7.3L317 7.2L318 7.2L319 7.2L320 7.1L321 7.1L322 7.1L323 7L324 7L325.1 7L326.1 6.9L327.1 6.9L328.1 6.9L329.1 6.8L330.1 6.8L331.1 6.8L332.1 6.8L333.2 6.7L334.2 6.7L335.2 6.7L336.2 6.6L337.2 6.6L338.2 6.6L339.2 6.6L340.2 6.5L341.3 6.5L342.3 6.5L343.3 6.5L344.3 6.4" stroke="#4DBEEE"/>
<path d="M40.5 6.9L41.5 6.9L42.5 6.9L43.5 7L44.6 7L45.6 7L46.6 7.1L47.6 7.1L48.6 7.1L49.6 7.2L50.6 7.2L51.6 7.2L52.7 7.3L53.7 7.3L54.7 7.4L55.7 7.4L56.7 7.4L57.7 7.5L58.7 7.5L59.7 7.6L60.8 7.6L61.8 7.7L62.8 7.7L63.8 7.8L64.8 7.8L65.8 7.9L66.8 7.9L67.8 8L68.9 8L69.9 8.1L70.9 8.1L71.9 8.2L72.9 8.3L73.9 8.3L74.9 8.4L75.9 8.4L77 8.5L78 8.6L79 8.7L80 8.7L81 8.8L82 8.9L83 9L84 9L85.1 9.1L86.1 9.2L87.1 9.3L88.1 9.4L89.1 9.5L90.1 9.5L91.1 9.6L92.1 9.7L93.2 9.8L94.2 9.9L95.2 10L96.2 10.2L97.2 10.3L98.2 10.4L99.2 10.5L100.2 10.6L101.3 10.7L102.3 10.9L103.3 11L104.3 11.1L105.3 11.3L106.3 11.4L107.3 11.6L108.3 11.7L109.4 11.9L110.4 12.1L111.4 12.2L112.4 12.4L113.4 12.6L114.4 12.8L115.4 13L116.5 13.1L117.5 13.4L118.5 13.6L119.5 13.8L120.5 14L121.5 14.2L122.5 14.5L123.5 14.7L124.6 15L125.6 15.3L126.6 15.5L127.6 15.8L128.6 16.1L129.6 16.4L130.6 16.7L131.6 17.1L132.7 17.4L133.7 17.8L134.7 18.1L135.7 18.5L136.7 18.9L137.7 19.4L138.7 19.8L139.7 20.2L140.8 20.7L141.8 21.2L142.8 21.7L143.8 22.2L144.8 22.8L145.8 23.4L146.8 24L147.8 24.6L148.9 25.2L149.9 25.9L150.9 26.6L151.9 27.4L152.9 28.2L153.9 29L154.9 29.9L155.9 30.8L157 31.7L158 32.7L159 33.8L160 34.9L161 36L162 37.3L163 38.6L164 39.9L165.1 41.4L166.1 42.9L167.1 44.6L168.1 46.3L169.1 48.2L170.1 50.2L171.1 52.3L172.1 54.6L173.2 57.1L174.2 59.8L175.2 62.7L175.4 63.3L175.5 63.8L175.7 64.2L175.8 64.7L176 65.2L176.1 65.7L176.2 65.8L176.3 66.2L176.5 66.7L176.6 67.2L176.8 67.7L176.9 68.2L177.1 68.7L177.2 69.3L177.4 69.8L177.5 70.3L177.7 70.9L177.8 71.5L178 72L178.1 72.6L178.2 73L178.3 73.2L178.4 73.8L178.6 74.4L178.7 75L178.9 75.6L179 76.2L179.2 76.8L179.2 77L179.3 77.4L179.5 78L179.6 78.7L179.8 79.3L179.9 80L180.1 80.6L180.2 81.2L180.4 81.9L180.6 82.6L180.7 83.2L180.9 83.9L181 84.5L181.2 85.2L181.3 85.6L181.3 85.8L181.5 86.4L181.6 87.1L181.8 87.7L181.9 88.3L182.1 88.9L182.2 89.5L182.3 89.7L182.4 90.1L182.5 90.6L182.7 91.1L182.8 91.6L183 92.1L183.1 92.5L183.3 92.9L183.4 93.3L183.6 93.6L183.7 93.8L183.9 94.1L184 94.2L184.2 94.4L184.3 94.4L184.3 94.5L184.5 94.5L184.7 94.5L184.8 94.4L185 94.2L185.1 94.1L185.3 93.8L185.4 93.6L185.6 93.3L185.7 92.9L185.9 92.5L186 92.1L186.2 91.6L186.3 91.1L186.5 90.6L186.6 90.1L186.8 89.5L186.9 88.9L187.1 88.3L187.2 87.7L187.3 87.3L187.4 87.1L187.5 86.4L187.7 85.8L187.8 85.2L188 84.5L188.1 83.9L188.3 83.2L188.3 83L188.5 82.6L188.6 81.9L188.8 81.2L188.9 80.6L189.1 80L189.2 79.3L189.4 78.7L189.5 78L189.7 77.4L189.8 76.8L190 76.2L190.1 75.6L190.3 75L190.4 74.6L190.4 74.4L190.6 73.8L190.7 73.2L190.9 72.6L191 72L191.2 71.5L191.3 70.9L191.4 70.7L191.5 70.3L191.6 69.8L191.8 69.3L191.9 68.7L192.1 68.2L192.2 67.7L192.4 67.2L192.6 66.7L192.7 66.2L192.9 65.7L193 65.2L193.2 64.7L193.3 64.2L193.4 63.9L193.5 63.8L193.6 63.3L194.4 60.9L195.4 58.1L196.5 55.6L197.5 53.2L198.5 51L199.5 49L200.5 47.1L201.5 45.3L202.5 43.6L203.5 42L204.6 40.5L205.6 39.1L206.6 37.8L207.6 36.5L208.6 35.3L209.6 34.2L210.6 33.1L211.6 32.1L212.7 31.1L213.7 30.2L214.7 29.3L215.7 28.5L216.7 27.7L217.7 26.9L218.7 26.2L219.7 25.5L220.8 24.8L221.8 24.2L222.8 23.6L223.8 23L224.8 22.4L225.8 21.9L226.8 21.4L227.8 20.9L228.9 20.4L229.9 20L230.9 19.5L231.9 19.1L232.9 18.7L233.9 18.3L234.9 17.9L235.9 17.6L237 17.2L238 16.9L239 16.6L240 16.2L241 15.9L242 15.6L243 15.4L244 15.1L245.1 14.8L246.1 14.6L247.1 14.3L248.1 14.1L249.1 13.9L250.1 13.7L251.1 13.4L252.1 13.2L253.2 13L254.2 12.8L255.2 12.6L256.2 12.5L257.2 12.3L258.2 12.1L259.2 12L260.2 11.8L261.3 11.6L262.3 11.5L263.3 11.3L264.3 11.2L265.3 11.1L266.3 10.9L267.3 10.8L268.4 10.7L269.4 10.5L270.4 10.4L271.4 10.3L272.4 10.2L273.4 10.1L274.4 10L275.4 9.9L276.5 9.8L277.5 9.7L278.5 9.6L279.5 9.5L280.5 9.4L281.5 9.3L282.5 9.2L283.5 9.1L284.6 9.1L285.6 9L286.6 8.9L287.6 8.8L288.6 8.8L289.6 8.7L290.6 8.6L291.6 8.5L292.7 8.5L293.7 8.4L294.7 8.3L295.7 8.3L296.7 8.2L297.7 8.2L298.7 8.1L299.7 8L300.8 8L301.8 7.9L302.8 7.9L303.8 7.8L304.8 7.8L305.8 7.7L306.8 7.7L307.8 7.6L308.9 7.6L309.9 7.5L310.9 7.5L311.9 7.5L312.9 7.4L313.9 7.4L314.9 7.3L315.9 7.3L317 7.3L318 7.2L319 7.2L320 7.1L321 7.1L322 7.1L323 7L324 7L325.1 7L326.1 6.9L327.1 6.9L328.1 6.9L329.1 6.8L330.1 6.8L331.1 6.8L332.1 6.8L333.2 6.7L334.2 6.7L335.2 6.7L336.2 6.6L337.2 6.6L338.2 6.6L339.2 6.6L340.2 6.5L341.3 6.5L342.3 6.5L343.3 6.5L344.3 6.4" stroke="#A2142F"/>
<path d="M40.5 6.6L41.5 6.7L42.5 6.7L43.5 6.7L44.6 6.8L45.6 6.8L46.6 6.8L47.6 6.8L48.6 6.9L49.6 6.9L50.6 6.9L51.6 7L52.7 7L53.7 7.1L54.7 7.1L55.7 7.1L56.7 7.2L57.7 7.2L58.7 7.2L59.7 7.3L60.8 7.3L61.8 7.4L62.8 7.4L63.8 7.5L64.8 7.5L65.8 7.5L66.8 7.6L67.8 7.6L68.9 7.7L69.9 7.7L70.9 7.8L71.9 7.9L72.9 7.9L73.9 8L74.9 8L75.9 8.1L77 8.1L78 8.2L79 8.3L80 8.3L81 8.4L82 8.5L83 8.5L84 8.6L85.1 8.7L86.1 8.8L87.1 8.8L88.1 8.9L89.1 9L90.1 9.1L91.1 9.2L92.1 9.3L93.2 9.4L94.2 9.4L95.2 9.5L96.2 9.6L97.2 9.7L98.2 9.8L99.2 10L100.2 10.1L101.3 10.2L102.3 10.3L103.3 10.4L104.3 10.5L105.3 10.7L106.3 10.8L107.3 10.9L108.3 11.1L109.4 11.2L110.4 11.4L111.4 11.5L112.4 11.7L113.4 11.9L114.4 12L115.4 12.2L116.5 12.4L117.5 12.6L118.5 12.8L119.5 13L120.5 13.2L121.5 13.4L122.5 13.6L123.5 13.9L124.6 14.1L125.6 14.3L126.6 14.6L127.6 14.9L128.6 15.1L129.6 15.4L130.6 15.7L131.6 16L132.7 16.3L133.7 16.7L134.7 17L135.7 17.4L136.7 17.8L137.7 18.1L138.7 18.5L139.7 19L140.8 19.4L141.8 19.9L142.8 20.3L143.8 20.8L144.8 21.4L145.8 21.9L146.8 22.5L147.8 23L148.9 23.7L149.9 24.3L150.9 25L151.9 25.7L152.9 26.4L153.9 27.2L154.9 28L155.9 28.9L157 29.8L158 30.7L159 31.7L160 32.7L161 33.8L162 35L163 36.2L164 37.5L165.1 38.9L166.1 40.3L167.1 41.9L168.1 43.5L169.1 45.2L170.1 47.1L171.1 49.1L172.1 51.2L173.2 53.5L174.2 55.9L175.2 58.5L176 60.8L176.1 61.2L176.2 61.4L176.3 61.7L176.5 62.1L176.6 62.6L176.8 63L176.9 63.5L177.1 63.9L177.2 64.4L177.4 64.9L177.5 65.4L177.7 65.9L177.8 66.3L178 66.8L178.1 67.3L178.2 67.7L178.3 67.8L178.4 68.4L178.6 68.9L178.7 69.4L178.9 69.9L179 70.4L179.2 71L179.2 71.2L179.3 71.5L179.5 72L179.6 72.6L179.8 73.1L179.9 73.7L180.1 74.2L180.2 74.8L180.4 75.3L180.6 75.9L180.7 76.4L180.9 77L181 77.6L181.2 78.1L181.3 78.5L181.3 78.7L181.5 79.2L181.6 79.7L181.8 80.3L181.9 80.8L182.1 81.3L182.2 81.8L182.3 82L182.4 82.3L182.5 82.8L182.7 83.3L182.8 83.7L183 84.2L183.1 84.6L183.3 85L183.4 85.4L183.6 85.7L183.7 86L183.9 86.3L184 86.6L184.2 86.8L184.3 87L184.5 87.2L184.7 87.3L184.8 87.4L185 87.5L185.1 87.5L185.3 87.5L185.4 87.4L185.6 87.3L185.7 87.2L185.9 87.1L186 86.9L186.2 86.7L186.3 86.4L186.5 86.2L186.6 85.9L186.8 85.6L186.9 85.2L187.1 84.9L187.2 84.5L187.3 84.2L187.4 84.1L187.5 83.6L187.7 83.2L187.8 82.8L188 82.3L188.1 81.8L188.3 81.3L188.3 81.2L188.5 80.8L188.6 80.3L188.8 79.8L188.9 79.3L189.1 78.8L189.2 78.3L189.4 77.7L189.5 77.2L189.7 76.7L189.8 76.2L190 75.6L190.1 75.1L190.3 74.6L190.4 74.2L190.4 74L190.6 73.5L190.7 73L190.9 72.5L191 72L191.2 71.5L191.3 70.9L191.4 70.8L191.5 70.4L191.6 69.9L191.8 69.4L191.9 68.9L192.1 68.5L192.2 68L192.4 67.5L192.6 67L192.7 66.5L192.9 66.1L193 65.6L193.2 65.1L193.3 64.7L193.4 64.4L193.5 64.2L193.6 63.8L193.8 63.3L193.9 62.9L194.1 62.5L194.2 62.1L194.4 61.5L195.4 58.8L196.5 56.3L197.5 53.9L198.5 51.7L199.5 49.6L200.5 47.7L201.5 45.9L202.5 44.2L203.5 42.6L204.6 41.1L205.6 39.7L206.6 38.3L207.6 37L208.6 35.8L209.6 34.7L210.6 33.6L211.6 32.6L212.7 31.6L213.7 30.6L214.7 29.7L215.7 28.9L216.7 28.1L217.7 27.3L218.7 26.6L219.7 25.8L220.8 25.2L221.8 24.5L222.8 23.9L223.8 23.3L224.8 22.7L225.8 22.2L226.8 21.7L227.8 21.1L228.9 20.7L229.9 20.2L230.9 19.7L231.9 19.3L232.9 18.9L233.9 18.5L234.9 18.1L235.9 17.8L237 17.4L238 17.1L239 16.7L240 16.4L241 16.1L242 15.8L243 15.5L244 15.2L245.1 15L246.1 14.7L247.1 14.5L248.1 14.2L249.1 14L250.1 13.8L251.1 13.6L252.1 13.3L253.2 13.1L254.2 12.9L255.2 12.8L256.2 12.6L257.2 12.4L258.2 12.2L259.2 12L260.2 11.9L261.3 11.7L262.3 11.6L263.3 11.4L264.3 11.3L265.3 11.1L266.3 11L267.3 10.9L268.4 10.7L269.4 10.6L270.4 10.5L271.4 10.4L272.4 10.3L273.4 10.2L274.4 10L275.4 9.9L276.5 9.8L277.5 9.7L278.5 9.6L279.5 9.5L280.5 9.5L281.5 9.4L282.5 9.3L283.5 9.2L284.6 9.1L285.6 9L286.6 8.9L287.6 8.9L288.6 8.8L289.6 8.7L290.6 8.7L291.6 8.6L292.7 8.5L293.7 8.4L294.7 8.4L295.7 8.3L296.7 8.3L297.7 8.2L298.7 8.1L299.7 8.1L300.8 8L301.8 8L302.8 7.9L303.8 7.9L304.8 7.8L305.8 7.8L306.8 7.7L307.8 7.7L308.9 7.6L309.9 7.6L310.9 7.5L311.9 7.5L312.9 7.4L313.9 7.4L314.9 7.4L315.9 7.3L317 7.3L318 7.2L319 7.2L320 7.2L321 7.1L322 7.1L323 7.1L324 7L325.1 7L326.1 7L327.1 6.9L328.1 6.9L329.1 6.9L330.1 6.8L331.1 6.8L332.1 6.8L333.2 6.7L334.2 6.7L335.2 6.7L336.2 6.7L337.2 6.6L338.2 6.6L339.2 6.6L340.2 6.6L341.3 6.5L342.3 6.5L343.3 6.5L344.3 6.5" stroke="#0072BD"/>
<path d="M40.5 6.5L41.5 6.6L42.5 6.6L43.5 6.6L44.6 6.6L45.6 6.7L46.6 6.7L47.6 6.7L48.6 6.8L49.6 6.8L50.6 6.8L51.6 6.9L52.7 6.9L53.7 6.9L54.7 7L55.7 7L56.7 7L57.7 7.1L58.7 7.1L59.7 7.1L60.8 7.2L61.8 7.2L62.8 7.3L63.8 7.3L64.8 7.3L65.8 7.4L66.8 7.4L67.8 7.5L68.9 7.5L69.9 7.6L70.9 7.6L71.9 7.7L72.9 7.7L73.9 7.8L74.9 7.8L75.9 7.9L77 8L78 8L79 8.1L80 8.1L81 8.2L82 8.3L83 8.3L84 8.4L85.1 8.5L86.1 8.5L87.1 8.6L88.1 8.7L89.1 8.8L90.1 8.8L91.1 8.9L92.1 9L93.2 9.1L94.2 9.2L95.2 9.3L96.2 9.4L97.2 9.5L98.2 9.6L99.2 9.7L100.2 9.8L101.3 9.9L102.3 10L103.3 10.1L104.3 10.2L105.3 10.3L106.3 10.5L107.3 10.6L108.3 10.7L109.4 10.9L110.4 11L111.4 11.2L112.4 11.3L113.4 11.5L114.4 11.6L115.4 11.8L116.5 12L117.5 12.2L118.5 12.3L119.5 12.5L120.5 12.7L121.5 12.9L122.5 13.1L123.5 13.4L124.6 13.6L125.6 13.8L126.6 14.1L127.6 14.3L128.6 14.6L129.6 14.8L130.6 15.1L131.6 15.4L132.7 15.7L133.7 16L134.7 16.4L135.7 16.7L136.7 17.1L137.7 17.4L138.7 17.8L139.7 18.2L140.8 18.6L141.8 19.1L142.8 19.5L143.8 20L144.8 20.5L145.8 21L146.8 21.5L147.8 22.1L148.9 22.7L149.9 23.3L150.9 23.9L151.9 24.6L152.9 25.3L153.9 26L154.9 26.8L155.9 27.6L157 28.5L158 29.3L159 30.3L160 31.3L161 32.3L162 33.4L163 34.5L164 35.8L165.1 37L166.1 38.4L167.1 39.8L168.1 41.4L169.1 43L170.1 44.7L171.1 46.5L172.1 48.5L173.2 50.5L174.2 52.7L175.2 55.1L176.2 57.6L176.6 58.6L176.8 59L176.9 59.4L177.1 59.8L177.2 60.2L177.4 60.7L177.5 61.1L177.7 61.5L177.8 61.9L178 62.3L178.1 62.8L178.2 63L178.3 63.2L178.4 63.6L178.6 64.1L178.7 64.5L178.9 64.9L179 65.4L179.2 65.8L179.2 66L179.3 66.3L179.5 66.7L179.6 67.2L179.8 67.6L179.9 68.1L180.1 68.6L180.2 69L180.4 69.5L180.6 69.9L180.7 70.4L180.9 70.8L181 71.3L181.2 71.8L181.3 72.1L181.3 72.2L181.5 72.7L181.6 73.1L181.8 73.5L181.9 74L182.1 74.4L182.2 74.8L182.3 75L182.4 75.2L182.5 75.6L182.7 76L182.8 76.4L183 76.8L183.1 77.2L183.3 77.5L183.4 77.8L183.6 78.2L183.7 78.5L183.9 78.8L184 79L184.2 79.3L184.3 79.4L184.3 79.5L184.5 79.7L184.7 79.9L184.8 80.1L185 80.2L185.1 80.3L185.3 80.4L185.4 80.5L185.6 80.5L185.7 80.5L185.9 80.5L186 80.5L186.2 80.4L186.3 80.3L186.5 80.2L186.6 80.1L186.8 80L186.9 79.8L187.1 79.6L187.2 79.4L187.3 79.3L187.4 79.2L187.5 79L187.7 78.7L187.8 78.5L188 78.2L188.1 77.9L188.3 77.6L188.3 77.5L188.5 77.3L188.6 76.9L188.8 76.6L188.9 76.2L189.1 75.9L189.2 75.5L189.4 75.1L189.5 74.7L189.7 74.3L189.8 73.9L190 73.5L190.1 73.1L190.3 72.7L190.4 72.4L190.4 72.3L190.6 71.9L190.7 71.4L190.9 71L191 70.6L191.2 70.2L191.3 69.7L191.4 69.6L191.5 69.3L191.6 68.9L191.8 68.5L191.9 68L192.1 67.6L192.2 67.2L192.4 66.8L192.6 66.4L192.7 65.9L192.9 65.5L193 65.1L193.2 64.7L193.3 64.3L193.4 64L193.5 63.9L193.6 63.5L193.8 63.1L193.9 62.7L194.1 62.3L194.2 61.9L194.4 61.5L194.4 61.3L194.5 61.1L194.7 60.7L194.8 60.3L195.4 58.8L196.5 56.4L197.5 54.1L198.5 52L199.5 50L200.5 48.1L201.5 46.3L202.5 44.6L203.5 43L204.6 41.5L205.6 40.1L206.6 38.7L207.6 37.5L208.6 36.2L209.6 35.1L210.6 34L211.6 32.9L212.7 31.9L213.7 31L214.7 30.1L215.7 29.2L216.7 28.4L217.7 27.6L218.7 26.9L219.7 26.1L220.8 25.4L221.8 24.8L222.8 24.2L223.8 23.6L224.8 23L225.8 22.4L226.8 21.9L227.8 21.4L228.9 20.9L229.9 20.4L230.9 19.9L231.9 19.5L232.9 19.1L233.9 18.7L234.9 18.3L235.9 17.9L237 17.6L238 17.2L239 16.9L240 16.6L241 16.2L242 15.9L243 15.6L244 15.4L245.1 15.1L246.1 14.8L247.1 14.6L248.1 14.3L249.1 14.1L250.1 13.9L251.1 13.7L252.1 13.4L253.2 13.2L254.2 13L255.2 12.8L256.2 12.7L257.2 12.5L258.2 12.3L259.2 12.1L260.2 12L261.3 11.8L262.3 11.6L263.3 11.5L264.3 11.3L265.3 11.2L266.3 11.1L267.3 10.9L268.4 10.8L269.4 10.7L270.4 10.6L271.4 10.4L272.4 10.3L273.4 10.2L274.4 10.1L275.4 10L276.5 9.9L277.5 9.8L278.5 9.7L279.5 9.6L280.5 9.5L281.5 9.4L282.5 9.3L283.5 9.2L284.6 9.1L285.6 9.1L286.6 9L287.6 8.9L288.6 8.8L289.6 8.8L290.6 8.7L291.6 8.6L292.7 8.5L293.7 8.5L294.7 8.4L295.7 8.4L296.7 8.3L297.7 8.2L298.7 8.2L299.7 8.1L300.8 8.1L301.8 8L302.8 7.9L303.8 7.9L304.8 7.8L305.8 7.8L306.8 7.7L307.8 7.7L308.9 7.6L309.9 7.6L310.9 7.5L311.9 7.5L312.9 7.5L313.9 7.4L314.9 7.4L315.9 7.3L317 7.3L318 7.3L319 7.2L320 7.2L321 7.1L322 7.1L323 7.1L324 7L325.1 7L326.1 7L327.1 6.9L328.1 6.9L329.1 6.9L330.1 6.8L331.1 6.8L332.1 6.8L333.2 6.8L334.2 6.7L335.2 6.7L336.2 6.7L337.2 6.6L338.2 6.6L339.2 6.6L340.2 6.6L341.3 6.5L342.3 6.5L343.3 6.5L344.3 6.5" stroke="#D95319"/>
<path d="M40.5 6.4L41.5 6.4L42.5 6.5L43.5 6.5L44.6 6.5L45.6 6.6L46.6 6.6L47.6 6.6L48.6 6.6L49.6 6.7L50.6 6.7L51.6 6.7L52.7 6.8L53.7 6.8L54.7 6.8L55.7 6.9L56.7 6.9L57.7 6.9L58.7 7L59.7 7L60.8 7L61.8 7.1L62.8 7.1L63.8 7.2L64.8 7.2L65.8 7.2L66.8 7.3L67.8 7.3L68.9 7.4L69.9 7.4L70.9 7.5L71.9 7.5L72.9 7.6L73.9 7.6L74.9 7.7L75.9 7.7L77 7.8L78 7.8L79 7.9L80 8L81 8L82 8.1L83 8.1L84 8.2L85.1 8.3L86.1 8.3L87.1 8.4L88.1 8.5L89.1 8.6L90.1 8.6L91.1 8.7L92.1 8.8L93.2 8.9L94.2 9L95.2 9L96.2 9.1L97.2 9.2L98.2 9.3L99.2 9.4L100.2 9.5L101.3 9.6L102.3 9.7L103.3 9.8L104.3 9.9L105.3 10.1L106.3 10.2L107.3 10.3L108.3 10.4L109.4 10.6L110.4 10.7L111.4 10.8L112.4 11L113.4 11.1L114.4 11.3L115.4 11.4L116.5 11.6L117.5 11.8L118.5 12L119.5 12.1L120.5 12.3L121.5 12.5L122.5 12.7L123.5 12.9L124.6 13.2L125.6 13.4L126.6 13.6L127.6 13.9L128.6 14.1L129.6 14.4L130.6 14.6L131.6 14.9L132.7 15.2L133.7 15.5L134.7 15.8L135.7 16.1L136.7 16.5L137.7 16.8L138.7 17.2L139.7 17.6L140.8 18L141.8 18.4L142.8 18.8L143.8 19.3L144.8 19.8L145.8 20.3L146.8 20.8L147.8 21.3L148.9 21.9L149.9 22.5L150.9 23.1L151.9 23.7L152.9 24.4L153.9 25.1L154.9 25.8L155.9 26.6L157 27.4L158 28.3L159 29.2L160 30.1L161 31.1L162 32.1L163 33.2L164 34.4L165.1 35.6L166.1 36.9L167.1 38.2L168.1 39.7L169.1 41.2L170.1 42.8L171.1 44.5L172.1 46.3L173.2 48.2L174.2 50.2L175.2 52.4L176.2 54.6L176.9 56.3L177.1 56.6L177.2 57L177.4 57.4L177.5 57.7L177.7 58.1L177.8 58.5L178 58.8L178.1 59.2L178.2 59.5L178.3 59.6L178.4 60L178.6 60.3L178.7 60.7L178.9 61.1L179 61.5L179.2 61.9L179.2 62L179.3 62.3L179.5 62.6L179.6 63L179.8 63.4L179.9 63.8L180.1 64.2L180.2 64.6L180.4 64.9L180.6 65.3L180.7 65.7L180.9 66.1L181 66.5L181.2 66.8L181.3 67.1L181.3 67.2L181.5 67.6L181.6 67.9L181.8 68.3L181.9 68.7L182.1 69L182.2 69.4L182.3 69.5L182.4 69.7L182.5 70L182.7 70.4L182.8 70.7L183 71L183.1 71.3L183.3 71.6L183.4 71.8L183.6 72.1L183.7 72.3L183.9 72.6L184 72.8L184.2 73L184.3 73.2L184.5 73.4L184.7 73.6L184.8 73.7L185 73.9L185.1 74L185.3 74.1L185.4 74.2L185.6 74.2L185.7 74.3L185.9 74.3L186 74.3L186.2 74.3L186.3 74.3L186.5 74.2L186.6 74.2L186.8 74.1L186.9 74L187.1 73.9L187.2 73.8L187.3 73.7L187.4 73.7L187.5 73.6L187.7 73.4L187.8 73.2L188 73.1L188.1 72.9L188.3 72.7L188.3 72.6L188.5 72.5L188.6 72.2L188.8 72L188.9 71.8L189.1 71.5L189.2 71.2L189.4 71L189.5 70.7L189.7 70.4L189.8 70.1L190 69.8L190.1 69.5L190.3 69.2L190.4 69L190.4 68.9L190.6 68.6L190.7 68.2L190.9 67.9L191 67.6L191.2 67.3L191.3 66.9L191.4 66.8L191.5 66.6L191.6 66.2L191.8 65.9L191.9 65.5L192.1 65.2L192.2 64.8L192.4 64.5L192.6 64.1L192.7 63.8L192.9 63.4L193 63.1L193.2 62.7L193.3 62.4L193.4 62.2L193.5 62L193.6 61.7L193.8 61.3L193.9 61L194.1 60.7L194.2 60.3L194.4 60L194.4 59.8L194.5 59.6L194.7 59.3L194.8 58.9L195 58.6L195.1 58.3L195.4 57.6L196.5 55.4L197.5 53.3L198.5 51.3L199.5 49.4L200.5 47.6L201.5 45.9L202.5 44.3L203.5 42.8L204.6 41.3L205.6 39.9L206.6 38.6L207.6 37.3L208.6 36.1L209.6 35L210.6 33.9L211.6 32.9L212.7 31.9L213.7 31L214.7 30.1L215.7 29.2L216.7 28.4L217.7 27.6L218.7 26.9L219.7 26.1L220.8 25.5L221.8 24.8L222.8 24.2L223.8 23.6L224.8 23L225.8 22.4L226.8 21.9L227.8 21.4L228.9 20.9L229.9 20.4L230.9 20L231.9 19.5L232.9 19.1L233.9 18.7L234.9 18.3L235.9 17.9L237 17.6L238 17.2L239 16.9L240 16.6L241 16.3L242 16L243 15.7L244 15.4L245.1 15.1L246.1 14.9L247.1 14.6L248.1 14.4L249.1 14.1L250.1 13.9L251.1 13.7L252.1 13.5L253.2 13.2L254.2 13L255.2 12.9L256.2 12.7L257.2 12.5L258.2 12.3L259.2 12.1L260.2 12L261.3 11.8L262.3 11.7L263.3 11.5L264.3 11.4L265.3 11.2L266.3 11.1L267.3 10.9L268.4 10.8L269.4 10.7L270.4 10.6L271.4 10.4L272.4 10.3L273.4 10.2L274.4 10.1L275.4 10L276.5 9.9L277.5 9.8L278.5 9.7L279.5 9.6L280.5 9.5L281.5 9.4L282.5 9.3L283.5 9.2L284.6 9.2L285.6 9.1L286.6 9L287.6 8.9L288.6 8.8L289.6 8.8L290.6 8.7L291.6 8.6L292.7 8.6L293.7 8.5L294.7 8.4L295.7 8.4L296.7 8.3L297.7 8.2L298.7 8.2L299.7 8.1L300.8 8.1L301.8 8L302.8 7.9L303.8 7.9L304.8 7.8L305.8 7.8L306.8 7.7L307.8 7.7L308.9 7.6L309.9 7.6L310.9 7.5L311.9 7.5L312.9 7.5L313.9 7.4L314.9 7.4L315.9 7.3L317 7.3L318 7.3L319 7.2L320 7.2L321 7.1L322 7.1L323 7.1L324 7L325.1 7L326.1 7L327.1 6.9L328.1 6.9L329.1 6.9L330.1 6.8L331.1 6.8L332.1 6.8L333.2 6.8L334.2 6.7L335.2 6.7L336.2 6.7L337.2 6.6L338.2 6.6L339.2 6.6L340.2 6.6L341.3 6.5L342.3 6.5L343.3 6.5L344.3 6.5" stroke="#EDB120"/>
</g>
<rect x="40.5" y="4.5" width="303.8" height="232.7" fill="none" stroke="#767676" stroke-width="1"/>
<line x1="40.5" y1="237.2" x2="40.5" y2="234.2" stroke="#767676" stroke-width="1.0"/>
<line x1="40.5" y1="4.5" x2="40.5" y2="7.5" stroke="#767676" stroke-width="1.0"/>
<line x1="101.26" y1="237.2" x2="101.26" y2="234.2" stroke="#767676" stroke-width="1.0"/>
<line x1="101.26" y1="4.5" x2="101.26" y2="7.5" stroke="#767676" stroke-width="1.0"/>
<line x1="162.02" y1="237.2" x2="162.02" y2="234.2" stroke="#767676" stroke-width="1.0"/>
<line x1="162.02" y1="4.5" x2="162.02" y2="7.5" stroke="#767676" stroke-width="1.0"/>
<line x1="222.78" y1="237.2" x2="222.78" y2="234.2" stroke="#767676" stroke-width="1.0"/>
<line x1="222.78" y1="4.5" x2="222.78" y2="7.5" stroke="#767676" stroke-width="1.0"/>
<line x1="283.54" y1="237.2" x2="283.54" y2="234.2" stroke="#767676" stroke-width="1.0"/>
<line x1="283.54" y1="4.5" x2="283.54" y2="7.5" stroke="#767676" stroke-width="1.0"/>
<line x1="344.3" y1="237.2" x2="344.3" y2="234.2" stroke="#767676" stroke-width="1.0"/>
<line x1="344.3" y1="4.5" x2="344.3" y2="7.5" stroke="#767676" stroke-width="1.0"/>
<line x1="40.5" y1="4.5" x2="43.5" y2="4.5" stroke="#767676" stroke-width="1.0"/>
<line x1="344.3" y1="4.5" x2="341.3" y2="4.5" stroke="#767676" stroke-width="1.0"/>
<line x1="40.5" y1="43.28" x2="43.5" y2="43.28" stroke="#767676" stroke-width="1.0"/>
<line x1="344.3" y1="43.28" x2="341.3" y2="43.28" stroke="#767676" stroke-width="1.0"/>
<line x1="40.5" y1="82.07" x2="43.5" y2="82.07" stroke="#767676" stroke-width="1.0"/>
<line x1="344.3" y1="82.07" x2="341.3" y2="82.07" stroke="#767676" stroke-width="1.0"/>
<line x1="40.5" y1="120.85" x2="43.5" y2="120.85" stroke="#767676" stroke-width="1.0"/>
<line x1="344.3" y1="120.85" x2="341.3" y2="120.85" stroke="#767676" stroke-width="1.0"/>
<line x1="40.5" y1="159.63" x2="43.5" y2="159.63" stroke="#767676" stroke-width="1.0"/>
<line x1="344.3" y1="159.63" x2="341.3" y2="159.63" stroke="#767676" stroke-width="1.0"/>
<line x1="40.5" y1="198.42" x2="43.5" y2="198.42" stroke="#767676" stroke-width="1.0"/>
<line x1="344.3" y1="198.42" x2="341.3" y2="198.42" stroke="#767676" stroke-width="1.0"/>
<line x1="40.5" y1="237.2" x2="43.5" y2="237.2" stroke="#767676" stroke-width="1.0"/>
<line x1="344.3" y1="237.2" x2="341.3" y2="237.2" stroke="#767676" stroke-width="1.0"/>
<text x="35.2" y="9.7" font-size="12.9" text-anchor="end" fill="#262626">0</text>
<text x="35.2" y="48.48" font-size="12.9" text-anchor="end" fill="#262626">-10</text>
<text x="35.2" y="87.27" font-size="12.9" text-anchor="end" fill="#262626">-20</text>
<text x="35.2" y="126.05" font-size="12.9" text-anchor="end" fill="#262626">-30</text>
<text x="35.2" y="164.83" font-size="12.9" text-anchor="end" fill="#262626">-40</text>
<text x="35.2" y="203.62" font-size="12.9" text-anchor="end" fill="#262626">-50</text>
<text x="35.2" y="242.4" font-size="12.9" text-anchor="end" fill="#262626">-60</text>
<text transform="translate(10.3 120.2) rotate(-90)" font-size="14.9" text-anchor="middle" fill="#262626">S21 (dB)</text>
<text x="60" y="216.6" font-size="16.5" text-anchor="start" fill="#000">(a)</text>
<text font-size="14.4" font-weight="bold" font-style="italic" fill="#000" text-anchor="middle"><tspan x="176.3" y="197.7">Distance in</tspan><tspan x="176.3" y="214.7">mm range</tspan></text>
<rect x="265.6" y="12" width="71.9" height="157.2" fill="#fff" stroke="#767676" stroke-width="1"/>
<line x1="268.3" y1="20.7" x2="296" y2="20.7" stroke="#0072BD" stroke-width="2.6"/>
<text x="298.6" y="25.7" font-size="11.8" text-anchor="start" fill="#262626">1 mm</text>
<line x1="268.3" y1="36.2" x2="296" y2="36.2" stroke="#D95319" stroke-width="2.6"/>
<text x="298.6" y="41.2" font-size="11.8" text-anchor="start" fill="#262626">2 mm</text>
<line x1="268.3" y1="51.7" x2="296" y2="51.7" stroke="#EDB120" stroke-width="2.6"/>
<text x="298.6" y="56.7" font-size="11.8" text-anchor="start" fill="#262626">3 mm</text>
<line x1="268.3" y1="67.2" x2="296" y2="67.2" stroke="#7E2F8E" stroke-width="2.6"/>
<text x="298.6" y="72.2" font-size="11.8" text-anchor="start" fill="#262626">4 mm</text>
<line x1="268.3" y1="82.7" x2="296" y2="82.7" stroke="#77AC30" stroke-width="2.6"/>
<text x="298.6" y="87.7" font-size="11.8" text-anchor="start" fill="#262626">5 mm</text>
<line x1="268.3" y1="98.2" x2="296" y2="98.2" stroke="#4DBEEE" stroke-width="2.6"/>
<text x="298.6" y="103.2" font-size="11.8" text-anchor="start" fill="#262626">6 mm</text>
<line x1="268.3" y1="113.7" x2="296" y2="113.7" stroke="#A2142F" stroke-width="2.6"/>
<text x="298.6" y="118.7" font-size="11.8" text-anchor="start" fill="#262626">7 mm</text>
<line x1="268.3" y1="129.2" x2="296" y2="129.2" stroke="#0072BD" stroke-width="2.6"/>
<text x="298.6" y="134.2" font-size="11.8" text-anchor="start" fill="#262626">8 mm</text>
<line x1="268.3" y1="144.7" x2="296" y2="144.7" stroke="#D95319" stroke-width="2.6"/>
<text x="298.6" y="149.7" font-size="11.8" text-anchor="start" fill="#262626">9 mm</text>
<line x1="268.3" y1="160.2" x2="296" y2="160.2" stroke="#EDB120" stroke-width="2.6"/>
<text x="298.6" y="165.2" font-size="11.8" text-anchor="start" fill="#262626">10 mm</text>
<g clip-path="url(#cb)" fill="none" stroke-width="2.8" stroke-linejoin="round" stroke-linecap="round">
<path d="M40.9 256.2L41.9 256.2L42.9 256.3L43.9 256.4L44.9 256.4L46 256.5L47 256.5L48 256.6L49 256.7L50 256.8L51 256.8L52 256.9L53 257L54 257.1L55.1 257.2L56.1 257.2L57.1 257.3L58.1 257.4L59.1 257.5L60.1 257.6L61.1 257.7L62.1 257.8L63.1 257.9L64.2 258L65.2 258.1L66.2 258.2L67.2 258.3L68.2 258.4L69.2 258.5L70.2 258.6L71.2 258.7L72.3 258.9L73.3 259L74.3 259.1L75.3 259.3L76.3 259.4L77.3 259.5L78.3 259.7L79.3 259.8L80.3 260L81.4 260.1L82.4 260.3L83.4 260.4L84.4 260.6L85.4 260.8L86.4 261L87.4 261.1L88.4 261.3L89.4 261.5L90.5 261.7L91.5 261.9L92.5 262.1L93.5 262.4L94.5 262.6L95.5 262.8L96.5 263L97.5 263.3L98.5 263.5L99.6 263.8L100.6 264L101.6 264.3L102.6 264.6L103.6 264.9L104.6 265.2L105.6 265.5L106.6 265.8L107.6 266.1L108.7 266.5L109.7 266.8L110.7 267.2L111.7 267.5L112.7 267.9L113.7 268.3L114.7 268.8L115.7 269.2L116.8 269.7L117.8 270.1L118.8 270.6L119.8 271.1L120.8 271.7L121.8 272.2L122.8 272.8L123.8 273.4L124.8 274L125.9 274.6L126.9 275.2L127.9 275.9L128.9 276.6L129.9 277.3L130.9 278.1L131.9 278.8L132.9 279.6L133.9 280.5L135 281.3L136 282.2L137 283.1L138 284.1L139 285.1L140 286.1L141 287.2L142 288.3L143 289.5L144.1 290.7L145.1 291.9L146.1 293.3L147.1 294.6L148.1 296.1L149.1 297.6L150.1 299.1L151.1 300.8L152.1 302.5L153.2 304.3L154.2 306.2L155.2 308.2L156.2 310.3L157.2 312.5L158.2 314.8L159.2 317.2L160.2 319.8L161.2 322.4L162.3 325.3L163.3 328.3L164.3 331.4L165.3 334.8L166.3 338.3L167.3 342L168.3 346L169.3 350.2L170.4 354.6L171.4 359.3L172.4 364.3L173.4 369.7L174.4 375.3L175.4 381.3L176.4 387.7L177.4 394.4L177.8 396.8L177.9 397.8L178.1 398.9L178.2 399.9L178.4 401L178.4 401.5L178.5 402.1L178.7 403.2L178.8 404.3L179 405.4L179.1 406.5L179.3 407.6L179.4 408.8L179.5 408.8L179.6 409.9L179.7 411L179.9 412.2L180 413.3L180.2 414.5L180.4 415.6L180.5 416.5L180.5 416.8L180.7 417.9L180.8 419.1L181 420.2L181.1 421.4L181.3 422.5L181.4 423.7L181.5 424.2L181.6 424.8L181.7 426L181.9 427.1L182 428.3L182.2 429.4L182.3 430.5L182.5 431.6L182.5 431.7L182.6 432.7L182.8 433.8L182.9 434.8L183.1 435.9L183.2 436.9L183.4 437.9L183.5 438.7L183.5 438.9L183.7 439.9L183.8 440.8L184 441.8L184.1 442.6L184.3 443.5L184.4 444.3L184.5 444.6L184.6 445.1L184.8 445.8L184.9 446.5L185.1 447.2L185.2 447.8L185.4 448.4L185.5 448.9L185.7 449.4L185.8 449.8L186 450.1L186.1 450.5L186.3 450.7L186.4 450.9L186.5 451L186.6 451.1L186.7 451.2L186.9 451.2L187 451.2L187.2 451L187.3 450.8L187.5 450.6L187.5 450.4L187.6 450.2L187.8 449.8L187.9 449.3L188.1 448.7L188.2 448L188.4 447.3L188.5 446.6L188.6 446.5L188.7 445.7L188.8 444.8L189 443.9L189.2 442.9L189.3 441.9L189.5 440.8L189.6 440L189.6 439.7L189.8 438.5L189.9 437.3L190.1 436.1L190.2 434.9L190.4 433.6L190.5 432.3L190.6 431.8L190.7 431L190.8 429.7L191 428.4L191.1 427L191.3 425.7L191.4 424.3L191.6 423L191.6 422.9L191.7 421.6L191.9 420.2L192 418.9L192.2 417.5L192.3 416.1L192.5 414.8L192.6 413.8L192.6 413.4L192.8 412.1L192.9 410.7L193.1 409.4L193.2 408L193.4 406.7L193.6 405.4L193.6 404.9L193.7 404.1L193.9 402.8L194 401.5L194.2 400.2L194.3 399L194.5 397.7L194.6 396.5L194.6 396.4L194.8 395.2L194.9 394L195.1 392.8L195.2 391.6L195.4 390.4L195.5 389.2L195.6 388.4L195.7 388.1L195.8 386.9L196 385.7L196.6 380.8L197.7 373.8L198.7 367.3L199.7 361.2L200.7 355.5L201.7 350.2L202.7 345.3L203.7 340.7L204.7 336.4L205.7 332.3L206.8 328.5L207.8 325L208.8 321.6L209.8 318.5L210.8 315.5L211.8 312.7L212.8 310.1L213.8 307.6L214.8 305.2L215.9 303L216.9 300.9L217.9 298.9L218.9 297L219.9 295.1L220.9 293.4L221.9 291.8L222.9 290.2L224 288.7L225 287.3L226 285.9L227 284.6L228 283.4L229 282.2L230 281.1L231 280L232 278.9L233.1 277.9L234.1 277L235.1 276.1L236.1 275.2L237.1 274.4L238.1 273.6L239.1 272.8L240.1 272.1L241.1 271.4L242.2 270.7L243.2 270L244.2 269.4L245.2 268.8L246.2 268.3L247.2 267.8L248.2 267.2L249.2 266.8L250.2 266.3L251.3 265.8L252.3 265.4L253.3 265L254.3 264.6L255.3 264.3L256.3 263.9L257.3 263.6L258.3 263.3L259.3 263L260.4 262.7L261.4 262.4L262.4 262.1L263.4 261.8L264.4 261.6L265.4 261.4L266.4 261.1L267.4 260.9L268.4 260.7L269.5 260.5L270.5 260.3L271.5 260.1L272.5 259.9L273.5 259.7L274.5 259.5L275.5 259.3L276.5 259.2L277.6 259L278.6 258.8L279.6 258.7L280.6 258.5L281.6 258.4L282.6 258.2L283.6 258.1L284.6 257.9L285.6 257.8L286.7 257.7L287.7 257.5L288.7 257.4L289.7 257.3L290.7 257.2L291.7 257.1L292.7 256.9L293.7 256.8L294.7 256.7L295.8 256.6L296.8 256.5L297.8 256.4L298.8 256.3L299.8 256.3L300.8 256.2L301.8 256.1L302.8 256L303.8 255.9L304.9 255.9L305.9 255.8L306.9 255.7L307.9 255.7L308.9 255.6L309.9 255.6L310.9 255.5L311.9 255.5L312.9 255.4L314 255.4L315 255.4L316 255.4L317 255.4L318 255.4L319 255.4L320 255.4L321 255.4L322.1 255.4L323.1 255.4L324.1 255.5L325.1 255.5L326.1 255.5L327.1 255.5L328.1 255.5L329.1 255.5L330.1 255.5L331.2 255.5L332.2 255.5L333.2 255.5L334.2 255.5L335.2 255.4L336.2 255.4L337.2 255.4L338.2 255.4L339.2 255.4L340.3 255.3L341.3 255.3L342.3 255.3L343.3 255.3L344.3 255.2" stroke="#0072BD"/>
<path d="M40.9 256L41.9 256.1L42.9 256.1L43.9 256.2L44.9 256.2L46 256.2L47 256.3L48 256.4L49 256.4L50 256.5L51 256.5L52 256.6L53 256.7L54 256.8L55.1 256.9L56.1 256.9L57.1 257L58.1 257.1L59.1 257.2L60.1 257.3L61.1 257.4L62.1 257.5L63.1 257.7L64.2 257.8L65.2 257.9L66.2 258L67.2 258.1L68.2 258.2L69.2 258.4L70.2 258.5L71.2 258.6L72.3 258.8L73.3 258.9L74.3 259L75.3 259.2L76.3 259.3L77.3 259.5L78.3 259.6L79.3 259.8L80.3 259.9L81.4 260.1L82.4 260.2L83.4 260.4L84.4 260.6L85.4 260.8L86.4 261L87.4 261.2L88.4 261.4L89.4 261.6L90.5 261.8L91.5 262L92.5 262.2L93.5 262.5L94.5 262.7L95.5 262.9L96.5 263.2L97.5 263.5L98.5 263.7L99.6 264L100.6 264.3L101.6 264.6L102.6 264.9L103.6 265.2L104.6 265.5L105.6 265.8L106.6 266.2L107.6 266.5L108.7 266.9L109.7 267.3L110.7 267.7L111.7 268.1L112.7 268.5L113.7 269L114.7 269.4L115.7 269.9L116.8 270.4L117.8 270.9L118.8 271.4L119.8 271.9L120.8 272.5L121.8 273.1L122.8 273.7L123.8 274.3L124.8 274.9L125.9 275.6L126.9 276.3L127.9 277L128.9 277.7L129.9 278.5L130.9 279.3L131.9 280.2L132.9 281.1L133.9 282L135 282.9L136 283.9L137 285L138 286.1L139 287.2L140 288.4L141 289.7L142 291L143 292.3L144.1 293.7L145.1 295.2L146.1 296.7L147.1 298.2L148.1 299.9L149.1 301.6L150.1 303.3L151.1 305.2L152.1 307L153.2 309L154.2 311L155.2 313.1L156.2 315.3L157.2 317.5L158.2 319.8L159.2 322.1L160.2 324.5L161.2 326.9L162.3 329.4L163.3 332L164.3 334.5L165.3 337.1L166.3 339.7L167.3 342.2L168.3 344.7L169.3 347.1L169.8 348.3L170 348.6L170.1 349L170.3 349.3L170.4 349.4L170.4 349.7L170.6 350L170.8 350.3L170.9 350.7L171.1 351L171.2 351.3L171.4 351.6L171.5 352L171.7 352.3L171.8 352.6L172 352.9L172.1 353.2L172.3 353.5L172.4 353.7L172.4 353.8L172.6 354.1L172.7 354.3L172.9 354.6L173 354.9L173.2 355.2L173.3 355.4L173.4 355.5L173.5 355.7L173.6 355.9L173.8 356.2L173.9 356.4L174.1 356.7L174.2 356.9L174.4 357.1L174.5 357.3L174.7 357.5L174.8 357.7L175 357.9L175.2 358.1L175.3 358.3L175.4 358.4L175.5 358.5L175.6 358.7L175.8 358.8L175.9 359L176.1 359.2L176.2 359.3L176.4 359.4L176.4 359.5L176.5 359.6L176.7 359.7L176.8 359.8L177 359.9L177.1 360L177.3 360.1L177.4 360.2L177.6 360.3L177.7 360.3L177.9 360.4L178 360.5L178.2 360.5L178.3 360.5L178.4 360.6L178.5 360.6L178.6 360.6L178.8 360.6L178.9 360.6L179.1 360.6L179.2 360.6L179.4 360.6L179.5 360.6L179.6 360.6L179.7 360.5L179.9 360.5L180 360.5L180.2 360.4L180.3 360.3L180.5 360.3L180.6 360.2L180.8 360.1L180.9 360L181.1 359.9L181.2 359.8L181.4 359.7L181.5 359.6L181.5 359.5L181.7 359.4L181.8 359.3L182 359.1L182.1 359L182.3 358.8L182.4 358.6L182.5 358.6L182.6 358.4L182.7 358.3L182.9 358.1L183 357.9L183.2 357.7L183.3 357.5L183.5 357.3L183.5 357.2L183.6 357L183.8 356.8L184 356.6L184.1 356.3L184.3 356.1L184.4 355.8L184.5 355.7L184.6 355.6L184.7 355.3L184.9 355L185 354.8L185.2 354.5L185.3 354.2L185.5 353.9L185.5 353.8L185.6 353.6L185.8 353.3L185.9 353L186.1 352.7L186.2 352.4L186.4 352.1L186.5 351.8L186.7 351.5L186.8 351.2L187 350.8L187.1 350.5L187.3 350.2L187.4 349.8L187.5 349.6L187.6 349.5L187.7 349.2L187.9 348.8L188 348.5L188.6 347.3L189.6 344.9L190.6 342.4L191.6 339.8L192.6 337.3L193.6 334.7L194.6 332.2L195.6 329.7L196.6 327.2L197.7 324.8L198.7 322.5L199.7 320.2L200.7 317.9L201.7 315.7L202.7 313.6L203.7 311.6L204.7 309.6L205.7 307.7L206.8 305.9L207.8 304.1L208.8 302.4L209.8 300.8L210.8 299.2L211.8 297.7L212.8 296.2L213.8 294.8L214.8 293.4L215.9 292.1L216.9 290.9L217.9 289.7L218.9 288.5L219.9 287.4L220.9 286.4L221.9 285.3L222.9 284.4L224 283.4L225 282.5L226 281.6L227 280.8L228 280L229 279.2L230 278.5L231 277.8L232 277.1L233.1 276.4L234.1 275.8L235.1 275.2L236.1 274.6L237.1 274.1L238.1 273.5L239.1 273L240.1 272.5L241.1 272.1L242.2 271.6L243.2 271.2L244.2 270.8L245.2 270.4L246.2 270L247.2 269.6L248.2 269.3L249.2 268.9L250.2 268.6L251.3 268.3L252.3 268L253.3 267.7L254.3 267.4L255.3 267.2L256.3 266.9L257.3 266.7L258.3 266.5L259.3 266.3L260.4 266.1L261.4 265.9L262.4 265.7L263.4 265.5L264.4 265.4L265.4 265.3L266.4 265.1L267.4 265L268.4 264.9L269.5 264.8L270.5 264.7L271.5 264.7L272.5 264.6L273.5 264.5L274.5 264.5L275.5 264.4L276.5 264.3L277.6 264.3L278.6 264.2L279.6 264.1L280.6 264.1L281.6 264L282.6 263.9L283.6 263.9L284.6 263.8L285.6 263.8L286.7 263.7L287.7 263.6L288.7 263.6L289.7 263.5L290.7 263.5L291.7 263.4L292.7 263.4L293.7 263.3L294.7 263.3L295.8 263.3L296.8 263.2L297.8 263.2L298.8 263.2L299.8 263.1L300.8 263.1L301.8 263.1L302.8 263.1L303.8 263.1L304.9 263L305.9 263L306.9 263L307.9 263L308.9 263L309.9 263L310.9 263L311.9 262.9L312.9 262.9L314 262.9L315 262.9L316 262.9L317 262.8L318 262.8L319 262.8L320 262.7L321 262.7L322.1 262.7L323.1 262.6L324.1 262.6L325.1 262.6L326.1 262.5L327.1 262.5L328.1 262.5L329.1 262.5L330.1 262.5L331.2 262.5L332.2 262.5L333.2 262.5L334.2 262.6L335.2 262.6L336.2 262.6L337.2 262.6L338.2 262.7L339.2 262.7L340.3 262.8L341.3 262.8L342.3 262.9L343.3 262.9L344.3 263" stroke="#D95319"/>
<path d="M40.9 256L41.9 256L42.9 256.1L43.9 256.1L44.9 256.2L46 256.3L47 256.3L48 256.4L49 256.4L50 256.5L51 256.6L52 256.6L53 256.7L54 256.8L55.1 256.8L56.1 256.9L57.1 257L58.1 257.1L59.1 257.1L60.1 257.2L61.1 257.3L62.1 257.4L63.1 257.5L64.2 257.6L65.2 257.7L66.2 257.8L67.2 257.9L68.2 258L69.2 258.1L70.2 258.3L71.2 258.4L72.3 258.5L73.3 258.7L74.3 258.8L75.3 259L76.3 259.2L77.3 259.3L78.3 259.5L79.3 259.7L80.3 259.9L81.4 260.1L82.4 260.3L83.4 260.5L84.4 260.7L85.4 260.9L86.4 261.1L87.4 261.3L88.4 261.6L89.4 261.8L90.5 262.1L91.5 262.4L92.5 262.6L93.5 262.9L94.5 263.2L95.5 263.5L96.5 263.8L97.5 264.1L98.5 264.4L99.6 264.8L100.6 265.1L101.6 265.5L102.6 265.8L103.6 266.2L104.6 266.6L105.6 267L106.6 267.4L107.6 267.9L108.7 268.3L109.7 268.8L110.7 269.3L111.7 269.8L112.7 270.3L113.7 270.8L114.7 271.4L115.7 271.9L116.8 272.5L117.8 273.1L118.8 273.7L119.8 274.4L120.8 275.1L121.8 275.8L122.8 276.5L123.8 277.2L124.8 278L125.9 278.8L126.9 279.6L127.9 280.4L128.9 281.3L129.9 282.1L130.9 283.1L131.9 284L132.9 285L133.9 285.9L135 286.9L136 288L137 289.1L138 290.1L139 291.3L140 292.4L141 293.6L142 294.8L143 296L144.1 297.2L145.1 298.5L146.1 299.7L147.1 301L148.1 302.3L149.1 303.6L150.1 305L151.1 306.3L152.1 307.6L153.2 308.9L154.2 310.3L155.2 311.6L156.2 312.8L157.2 314.1L158.2 315.3L159.2 316.5L160.2 317.6L161.2 318.7L161.8 319.2L161.9 319.3L162.1 319.5L162.2 319.6L162.3 319.6L162.4 319.8L162.5 319.9L162.7 320L162.8 320.2L163 320.3L163.2 320.4L163.3 320.5L163.3 320.6L163.5 320.7L163.6 320.8L163.8 321L163.9 321.1L164.1 321.2L164.2 321.3L164.3 321.4L164.4 321.4L164.5 321.6L164.7 321.7L164.8 321.8L165 321.9L165.1 322L165.3 322.1L165.4 322.2L165.6 322.3L165.7 322.4L165.9 322.5L166 322.6L166.2 322.7L166.3 322.7L166.5 322.8L166.6 322.9L166.8 323L166.9 323.1L167.1 323.1L167.2 323.2L167.3 323.3L167.4 323.3L167.6 323.4L167.7 323.4L167.9 323.5L168 323.5L168.2 323.6L168.3 323.7L168.5 323.7L168.6 323.8L168.8 323.8L168.9 323.8L169.1 323.9L169.2 323.9L169.3 324L169.4 324L169.5 324L169.7 324L169.8 324L170 324.1L170.1 324.1L170.3 324.1L170.4 324.1L170.6 324.1L170.7 324.2L170.9 324.2L171 324.2L171.2 324.2L171.3 324.2L171.4 324.2L171.5 324.2L171.6 324.2L171.8 324.2L172 324.2L172.1 324.2L172.3 324.1L172.4 324.1L172.6 324.1L172.7 324.1L172.9 324.1L173 324.1L173.2 324L173.3 324L173.4 324L173.5 324L173.6 324L173.8 323.9L173.9 323.9L174.1 323.9L174.2 323.8L174.4 323.8L174.5 323.8L174.7 323.7L174.8 323.7L175 323.6L175.1 323.6L175.3 323.5L175.4 323.5L175.6 323.4L175.7 323.4L175.9 323.3L176 323.3L176.2 323.2L176.4 323.1L176.5 323.1L176.7 323L176.8 322.9L177 322.9L177.1 322.8L177.3 322.7L177.4 322.6L177.6 322.6L177.7 322.5L177.9 322.4L178 322.3L178.2 322.3L178.3 322.2L178.4 322.1L178.5 322.1L178.6 322L178.8 321.9L178.9 321.8L179.1 321.7L179.2 321.6L179.4 321.5L179.5 321.5L179.5 321.4L179.7 321.3L179.8 321.2L180 321.1L180.5 320.8L181.5 320.1L182.5 319.3L183.5 318.5L184.5 317.6L185.5 316.6L186.5 315.7L187.5 314.7L188.6 313.7L189.6 312.6L190.6 311.6L191.6 310.5L192.6 309.5L193.6 308.4L194.6 307.3L195.6 306.3L196.6 305.2L197.7 304.1L198.7 303.1L199.7 302L200.7 301L201.7 300L202.7 299L203.7 298L204.7 297.1L205.7 296.1L206.8 295.2L207.8 294.3L208.8 293.4L209.8 292.6L210.8 291.7L211.8 290.9L212.8 290.1L213.8 289.3L214.8 288.6L215.9 287.8L216.9 287.1L217.9 286.4L218.9 285.8L219.9 285.1L220.9 284.5L221.9 283.9L222.9 283.3L224 282.7L225 282.1L226 281.6L227 281.1L228 280.6L229 280.1L230 279.6L231 279.2L232 278.7L233.1 278.3L234.1 277.9L235.1 277.5L236.1 277.1L237.1 276.8L238.1 276.4L239.1 276L240.1 275.7L241.1 275.4L242.2 275.1L243.2 274.8L244.2 274.5L245.2 274.2L246.2 273.9L247.2 273.7L248.2 273.4L249.2 273.2L250.2 272.9L251.3 272.7L252.3 272.5L253.3 272.3L254.3 272.1L255.3 271.9L256.3 271.7L257.3 271.5L258.3 271.3L259.3 271.2L260.4 271L261.4 270.9L262.4 270.7L263.4 270.6L264.4 270.5L265.4 270.3L266.4 270.2L267.4 270.1L268.4 270L269.5 269.9L270.5 269.8L271.5 269.7L272.5 269.7L273.5 269.6L274.5 269.5L275.5 269.4L276.5 269.4L277.6 269.3L278.6 269.2L279.6 269.2L280.6 269.1L281.6 269.1L282.6 269L283.6 269L284.6 268.9L285.6 268.9L286.7 268.8L287.7 268.8L288.7 268.8L289.7 268.8L290.7 268.7L291.7 268.7L292.7 268.7L293.7 268.7L294.7 268.7L295.8 268.7L296.8 268.6L297.8 268.6L298.8 268.6L299.8 268.6L300.8 268.6L301.8 268.6L302.8 268.7L303.8 268.7L304.9 268.7L305.9 268.7L306.9 268.7L307.9 268.7L308.9 268.7L309.9 268.8L310.9 268.8L311.9 268.8L312.9 268.8L314 268.8L315 268.8L316 268.9L317 268.9L318 268.9L319 268.9L320 268.9L321 268.9L322.1 268.9L323.1 268.9L324.1 268.9L325.1 269L326.1 269L327.1 269L328.1 269L329.1 269.1L330.1 269.1L331.2 269.1L332.2 269.2L333.2 269.2L334.2 269.3L335.2 269.3L336.2 269.4L337.2 269.5L338.2 269.5L339.2 269.6L340.3 269.7L341.3 269.8L342.3 269.8L343.3 269.9L344.3 270" stroke="#EDB120"/>
<path d="M40.9 255.9L41.9 256L42.9 256.1L43.9 256.1L44.9 256.2L46 256.3L47 256.3L48 256.4L49 256.5L50 256.5L51 256.6L52 256.7L53 256.7L54 256.8L55.1 256.8L56.1 256.9L57.1 257L58.1 257L59.1 257.1L60.1 257.1L61.1 257.2L62.1 257.3L63.1 257.4L64.2 257.5L65.2 257.5L66.2 257.6L67.2 257.7L68.2 257.9L69.2 258L70.2 258.1L71.2 258.2L72.3 258.4L73.3 258.5L74.3 258.7L75.3 258.9L76.3 259L77.3 259.2L78.3 259.4L79.3 259.6L80.3 259.8L81.4 260L82.4 260.3L83.4 260.5L84.4 260.7L85.4 261L86.4 261.2L87.4 261.5L88.4 261.8L89.4 262.1L90.5 262.4L91.5 262.7L92.5 263L93.5 263.3L94.5 263.7L95.5 264L96.5 264.4L97.5 264.7L98.5 265.1L99.6 265.5L100.6 265.9L101.6 266.3L102.6 266.8L103.6 267.2L104.6 267.7L105.6 268.1L106.6 268.6L107.6 269.1L108.7 269.6L109.7 270.1L110.7 270.6L111.7 271.1L112.7 271.6L113.7 272.2L114.7 272.7L115.7 273.3L116.8 273.8L117.8 274.4L118.8 275L119.8 275.6L120.8 276.2L121.8 276.8L122.8 277.4L123.8 278.1L124.8 278.7L125.9 279.4L126.9 280.1L127.9 280.8L128.9 281.5L129.9 282.2L130.9 282.9L131.9 283.7L132.9 284.4L133.9 285.2L135 285.9L136 286.7L137 287.5L138 288.3L139 289.1L140 289.9L141 290.7L142 291.6L143 292.4L144.1 293.2L145.1 294L146.1 294.8L147.1 295.6L148.1 296.4L149.1 297.2L150.1 298L151.1 298.7L152.1 299.5L153.2 300.2L154.2 300.8L155.2 301.5L156.2 302.1L157.2 302.7L158.2 303.2L158.6 303.5L158.8 303.5L158.9 303.6L159.1 303.7L159.2 303.8L159.4 303.8L159.5 303.9L159.7 304L159.8 304L160 304.1L160.1 304.2L160.2 304.2L160.3 304.2L160.4 304.3L160.6 304.4L160.7 304.4L160.9 304.5L161 304.6L161.2 304.6L161.4 304.7L161.5 304.7L161.7 304.8L161.8 304.8L162 304.9L162.1 305L162.3 305L162.4 305.1L162.6 305.1L162.7 305.2L162.9 305.2L163 305.2L163.2 305.3L163.3 305.3L163.5 305.4L163.6 305.4L163.8 305.5L163.9 305.5L164.1 305.5L164.2 305.6L164.3 305.6L164.4 305.6L164.5 305.7L164.7 305.7L164.8 305.7L165 305.8L165.1 305.8L165.3 305.8L165.4 305.8L165.6 305.9L165.7 305.9L165.9 305.9L166.1 305.9L166.2 306L166.3 306L166.4 306L166.5 306L166.7 306L166.8 306L167 306.1L167.1 306.1L167.3 306.1L167.4 306.1L167.6 306.1L167.7 306.1L167.9 306.1L168 306.1L168.2 306.1L168.3 306.1L168.5 306.2L168.6 306.2L168.8 306.2L168.9 306.2L169.1 306.2L169.2 306.2L169.3 306.2L169.4 306.2L169.5 306.2L169.7 306.2L169.8 306.2L170 306.2L170.1 306.2L170.3 306.2L170.4 306.2L170.5 306.2L170.6 306.2L170.8 306.2L170.9 306.2L171.1 306.2L171.2 306.2L171.4 306.1L171.5 306.1L171.7 306.1L171.8 306.1L172 306.1L172.1 306.1L172.3 306.1L172.4 306.1L172.6 306.1L172.7 306.1L172.9 306.1L173 306L173.2 306L173.3 306L173.4 306L173.5 306L173.6 306L173.8 306L173.9 305.9L174.1 305.9L174.2 305.9L174.4 305.9L174.5 305.9L174.7 305.9L174.9 305.8L175 305.8L175.2 305.8L175.3 305.8L175.4 305.8L175.5 305.7L175.6 305.7L175.8 305.7L175.9 305.7L176.1 305.7L176.2 305.6L176.4 305.6L176.5 305.6L176.7 305.5L176.8 305.5L177.4 305.4L178.4 305.2L179.5 304.9L180.5 304.7L181.5 304.4L182.5 304.1L183.5 303.8L184.5 303.4L185.5 303L186.5 302.7L187.5 302.3L188.6 301.8L189.6 301.4L190.6 301L191.6 300.5L192.6 300L193.6 299.5L194.6 299.1L195.6 298.6L196.6 298.1L197.7 297.5L198.7 297L199.7 296.5L200.7 296L201.7 295.4L202.7 294.9L203.7 294.4L204.7 293.9L205.7 293.3L206.8 292.8L207.8 292.3L208.8 291.7L209.8 291.2L210.8 290.7L211.8 290.2L212.8 289.7L213.8 289.2L214.8 288.7L215.9 288.2L216.9 287.7L217.9 287.3L218.9 286.8L219.9 286.4L220.9 285.9L221.9 285.5L222.9 285.1L224 284.7L225 284.3L226 283.9L227 283.5L228 283.2L229 282.8L230 282.5L231 282.2L232 281.9L233.1 281.5L234.1 281.2L235.1 281L236.1 280.7L237.1 280.4L238.1 280.1L239.1 279.9L240.1 279.6L241.1 279.3L242.2 279.1L243.2 278.9L244.2 278.6L245.2 278.4L246.2 278.2L247.2 278L248.2 277.8L249.2 277.6L250.2 277.4L251.3 277.2L252.3 277L253.3 276.8L254.3 276.7L255.3 276.5L256.3 276.3L257.3 276.2L258.3 276L259.3 275.9L260.4 275.8L261.4 275.7L262.4 275.5L263.4 275.4L264.4 275.3L265.4 275.2L266.4 275.1L267.4 275L268.4 275L269.5 274.9L270.5 274.8L271.5 274.8L272.5 274.7L273.5 274.6L274.5 274.6L275.5 274.5L276.5 274.5L277.6 274.4L278.6 274.3L279.6 274.3L280.6 274.3L281.6 274.2L282.6 274.2L283.6 274.1L284.6 274.1L285.6 274.1L286.7 274L287.7 274L288.7 274L289.7 273.9L290.7 273.9L291.7 273.9L292.7 273.9L293.7 273.9L294.7 273.9L295.8 273.9L296.8 273.9L297.8 273.9L298.8 273.9L299.8 273.9L300.8 273.9L301.8 273.9L302.8 273.9L303.8 273.9L304.9 273.9L305.9 273.9L306.9 274L307.9 274L308.9 274L309.9 274L310.9 274L311.9 274.1L312.9 274.1L314 274.1L315 274.1L316 274.1L317 274.1L318 274.1L319 274.1L320 274.1L321 274.1L322.1 274.1L323.1 274.1L324.1 274.1L325.1 274.1L326.1 274.1L327.1 274.2L328.1 274.2L329.1 274.2L330.1 274.3L331.2 274.3L332.2 274.4L333.2 274.4L334.2 274.5L335.2 274.6L336.2 274.7L337.2 274.7L338.2 274.8L339.2 274.9L340.3 275L341.3 275.1L342.3 275.2L343.3 275.3L344.3 275.4" stroke="#7E2F8E"/>
<path d="M40.9 255.9L41.9 256L42.9 256.1L43.9 256.2L44.9 256.2L46 256.3L47 256.4L48 256.5L49 256.5L50 256.6L51 256.7L52 256.8L53 256.8L54 256.9L55.1 257L56.1 257L57.1 257.1L58.1 257.2L59.1 257.2L60.1 257.3L61.1 257.4L62.1 257.5L63.1 257.5L64.2 257.6L65.2 257.7L66.2 257.8L67.2 257.9L68.2 258L69.2 258.2L70.2 258.3L71.2 258.4L72.3 258.6L73.3 258.7L74.3 258.9L75.3 259L76.3 259.2L77.3 259.4L78.3 259.6L79.3 259.8L80.3 260L81.4 260.2L82.4 260.4L83.4 260.6L84.4 260.8L85.4 261L86.4 261.3L87.4 261.5L88.4 261.8L89.4 262L90.5 262.3L91.5 262.5L92.5 262.8L93.5 263.1L94.5 263.4L95.5 263.7L96.5 264L97.5 264.3L98.5 264.6L99.6 265L100.6 265.3L101.6 265.7L102.6 266.1L103.6 266.4L104.6 266.8L105.6 267.2L106.6 267.6L107.6 268L108.7 268.5L109.7 268.9L110.7 269.3L111.7 269.8L112.7 270.2L113.7 270.7L114.7 271.2L115.7 271.6L116.8 272.1L117.8 272.6L118.8 273.1L119.8 273.6L120.8 274.1L121.8 274.6L122.8 275.1L123.8 275.7L124.8 276.2L125.9 276.7L126.9 277.3L127.9 277.8L128.9 278.4L129.9 279L130.9 279.6L131.9 280.1L132.9 280.7L133.9 281.3L135 282L136 282.6L137 283.2L138 283.8L139 284.4L140 285.1L141 285.7L142 286.3L143 287L144.1 287.6L145.1 288.2L146.1 288.9L147.1 289.5L148.1 290.1L149.1 290.7L150.1 291.3L151.1 291.9L152.1 292.4L153.2 293L154.2 293.5L155.2 294L156.2 294.5L157.2 295L158.2 295.4L158.9 295.7L159.1 295.8L159.2 295.8L159.4 295.9L159.5 295.9L159.7 296L159.8 296L160 296.1L160.2 296.2L160.3 296.2L160.5 296.3L160.6 296.3L160.8 296.4L160.9 296.4L161.1 296.5L161.2 296.5L161.4 296.6L161.5 296.6L161.7 296.7L161.8 296.7L162 296.7L162.1 296.8L162.3 296.8L162.4 296.9L162.6 296.9L162.7 297L162.9 297L163 297L163.2 297.1L163.3 297.1L163.5 297.2L163.6 297.2L163.8 297.2L163.9 297.3L164.1 297.3L164.2 297.3L164.3 297.3L164.4 297.4L164.6 297.4L164.7 297.4L164.9 297.5L165 297.5L165.2 297.5L165.3 297.5L165.5 297.6L165.6 297.6L165.8 297.6L165.9 297.6L166.1 297.7L166.2 297.7L166.3 297.7L166.4 297.7L166.5 297.7L166.7 297.7L166.8 297.8L167 297.8L167.1 297.8L167.3 297.8L167.4 297.8L167.6 297.8L167.7 297.9L167.9 297.9L168 297.9L168.2 297.9L168.3 297.9L168.5 297.9L168.6 297.9L168.8 297.9L169 297.9L169.1 297.9L169.3 297.9L169.3 298L169.4 298L169.6 298L169.7 298L169.9 298L170 298L170.2 298L170.3 298L170.4 298L170.5 298L170.6 298L170.8 298L170.9 298L171.1 298L171.2 298L171.4 298L171.5 298L171.7 298L171.8 298L172 298L172.1 298L172.3 298L172.4 298L172.6 298L172.7 298.1L172.9 298.1L173 298.1L173.2 298.1L173.4 298.1L173.5 298.1L173.7 298L173.8 298L174 298L174.1 298L174.3 298L174.4 298L174.6 298L174.7 298L174.9 298L175 298L175.2 298L175.3 298L175.4 298L175.5 298L175.6 298L175.8 298L175.9 298L176.1 298L176.2 298L176.4 298L176.5 298L176.7 298L176.8 298L177 297.9L177.1 297.9L177.4 297.9L178.4 297.9L179.5 297.8L180.5 297.7L181.5 297.6L182.5 297.5L183.5 297.3L184.5 297.2L185.5 297.1L186.5 296.9L187.5 296.7L188.6 296.6L189.6 296.4L190.6 296.2L191.6 296L192.6 295.7L193.6 295.5L194.6 295.3L195.6 295L196.6 294.8L197.7 294.5L198.7 294.3L199.7 294L200.7 293.7L201.7 293.5L202.7 293.2L203.7 292.9L204.7 292.6L205.7 292.3L206.8 292L207.8 291.7L208.8 291.4L209.8 291.1L210.8 290.8L211.8 290.5L212.8 290.2L213.8 289.9L214.8 289.6L215.9 289.3L216.9 289L217.9 288.7L218.9 288.4L219.9 288.2L220.9 287.9L221.9 287.6L222.9 287.3L224 287L225 286.8L226 286.5L227 286.3L228 286L229 285.8L230 285.5L231 285.3L232 285L233.1 284.8L234.1 284.6L235.1 284.4L236.1 284.1L237.1 283.9L238.1 283.7L239.1 283.5L240.1 283.3L241.1 283.1L242.2 282.9L243.2 282.8L244.2 282.6L245.2 282.4L246.2 282.2L247.2 282.1L248.2 281.9L249.2 281.7L250.2 281.6L251.3 281.4L252.3 281.3L253.3 281.2L254.3 281L255.3 280.9L256.3 280.8L257.3 280.7L258.3 280.5L259.3 280.4L260.4 280.3L261.4 280.2L262.4 280.1L263.4 280.1L264.4 280L265.4 279.9L266.4 279.8L267.4 279.8L268.4 279.7L269.5 279.7L270.5 279.6L271.5 279.6L272.5 279.5L273.5 279.5L274.5 279.4L275.5 279.4L276.5 279.4L277.6 279.3L278.6 279.3L279.6 279.2L280.6 279.2L281.6 279.2L282.6 279.1L283.6 279.1L284.6 279L285.6 279L286.7 279L287.7 278.9L288.7 278.9L289.7 278.9L290.7 278.9L291.7 278.8L292.7 278.8L293.7 278.8L294.7 278.8L295.8 278.8L296.8 278.7L297.8 278.7L298.8 278.7L299.8 278.7L300.8 278.7L301.8 278.7L302.8 278.7L303.8 278.7L304.9 278.7L305.9 278.7L306.9 278.7L307.9 278.7L308.9 278.7L309.9 278.7L310.9 278.7L311.9 278.7L312.9 278.7L314 278.7L315 278.7L316 278.7L317 278.7L318 278.7L319 278.7L320 278.7L321 278.6L322.1 278.6L323.1 278.6L324.1 278.6L325.1 278.6L326.1 278.6L327.1 278.6L328.1 278.6L329.1 278.6L330.1 278.6L331.2 278.6L332.2 278.7L333.2 278.7L334.2 278.8L335.2 278.8L336.2 278.9L337.2 278.9L338.2 279L339.2 279L340.3 279.1L341.3 279.2L342.3 279.2L343.3 279.3L344.3 279.4" stroke="#77AC30"/>
<path d="M40.9 256L41.9 256L42.9 256.1L43.9 256.1L44.9 256.1L46 256.2L47 256.2L48 256.3L49 256.3L50 256.4L51 256.4L52 256.5L53 256.5L54 256.6L55.1 256.7L56.1 256.7L57.1 256.8L58.1 256.9L59.1 257L60.1 257.1L61.1 257.2L62.1 257.2L63.1 257.3L64.2 257.4L65.2 257.5L66.2 257.6L67.2 257.7L68.2 257.8L69.2 258L70.2 258.1L71.2 258.2L72.3 258.3L73.3 258.4L74.3 258.6L75.3 258.7L76.3 258.9L77.3 259L78.3 259.2L79.3 259.4L80.3 259.6L81.4 259.7L82.4 259.9L83.4 260.1L84.4 260.3L85.4 260.6L86.4 260.8L87.4 261L88.4 261.2L89.4 261.5L90.5 261.7L91.5 262L92.5 262.2L93.5 262.5L94.5 262.8L95.5 263.1L96.5 263.3L97.5 263.6L98.5 263.9L99.6 264.2L100.6 264.6L101.6 264.9L102.6 265.2L103.6 265.6L104.6 265.9L105.6 266.3L106.6 266.6L107.6 267L108.7 267.4L109.7 267.8L110.7 268.2L111.7 268.6L112.7 269L113.7 269.4L114.7 269.9L115.7 270.3L116.8 270.8L117.8 271.2L118.8 271.7L119.8 272.1L120.8 272.6L121.8 273.1L122.8 273.5L123.8 274L124.8 274.5L125.9 275L126.9 275.4L127.9 275.9L128.9 276.4L129.9 276.9L130.9 277.4L131.9 277.9L132.9 278.4L133.9 278.8L135 279.3L136 279.8L137 280.3L138 280.8L139 281.3L140 281.8L141 282.2L142 282.7L143 283.2L144.1 283.7L145.1 284.1L146.1 284.6L147.1 285.1L148.1 285.5L149.1 286L150.1 286.4L151.1 286.8L152.1 287.3L153.2 287.7L154.2 288.1L155.2 288.5L156.2 288.8L157.2 289.2L158.2 289.5L159.2 289.9L160.2 290.2L161.2 290.5L162.3 290.8L163.3 291.1L164.3 291.3L165.3 291.5L165.4 291.6L165.6 291.6L165.7 291.6L165.9 291.7L166.1 291.7L166.2 291.7L166.3 291.8L166.4 291.8L166.5 291.8L166.7 291.8L166.8 291.9L167 291.9L167.1 291.9L167.3 291.9L167.3 292L167.4 292L167.6 292L167.7 292L167.9 292L168 292.1L168.2 292.1L168.3 292.1L168.5 292.1L168.6 292.2L168.8 292.2L168.9 292.2L169.1 292.2L169.2 292.3L169.3 292.3L169.4 292.3L169.5 292.3L169.7 292.3L169.8 292.3L170 292.4L170.1 292.4L170.3 292.4L170.4 292.4L170.5 292.4L170.6 292.4L170.8 292.4L170.9 292.5L171.1 292.5L171.2 292.5L171.4 292.5L171.5 292.5L171.7 292.5L171.8 292.6L172 292.6L172.1 292.6L172.3 292.6L172.4 292.6L172.6 292.6L172.7 292.6L172.9 292.6L173 292.6L173.2 292.6L173.3 292.7L173.4 292.7L173.5 292.7L173.6 292.7L173.8 292.7L173.9 292.7L174.1 292.7L174.2 292.7L174.4 292.7L174.5 292.7L174.7 292.7L174.9 292.7L175 292.7L175.2 292.7L175.3 292.7L175.4 292.7L175.5 292.7L175.6 292.7L175.8 292.7L175.9 292.7L176.1 292.7L176.2 292.7L176.4 292.7L176.5 292.7L176.7 292.7L176.8 292.7L177 292.7L177.1 292.8L177.3 292.8L177.4 292.8L177.6 292.8L177.7 292.8L177.9 292.8L178 292.8L178.2 292.8L178.3 292.8L178.4 292.8L178.5 292.8L178.6 292.8L178.8 292.8L178.9 292.8L179.1 292.8L179.3 292.8L179.4 292.8L179.5 292.8L179.6 292.8L179.7 292.8L179.9 292.8L180 292.8L180.2 292.8L180.3 292.8L180.5 292.8L180.6 292.7L180.8 292.7L180.9 292.7L181.1 292.7L181.2 292.7L181.4 292.7L181.5 292.7L181.7 292.7L181.8 292.7L182 292.7L182.1 292.7L182.3 292.7L182.4 292.7L182.5 292.7L182.6 292.7L182.7 292.7L182.9 292.7L183 292.7L183.2 292.7L183.3 292.7L183.5 292.7L184.5 292.7L185.5 292.6L186.5 292.6L187.5 292.5L188.6 292.4L189.6 292.4L190.6 292.3L191.6 292.2L192.6 292.1L193.6 292L194.6 291.9L195.6 291.8L196.6 291.7L197.7 291.6L198.7 291.5L199.7 291.4L200.7 291.3L201.7 291.2L202.7 291L203.7 290.9L204.7 290.8L205.7 290.7L206.8 290.6L207.8 290.4L208.8 290.3L209.8 290.2L210.8 290L211.8 289.9L212.8 289.8L213.8 289.6L214.8 289.5L215.9 289.4L216.9 289.2L217.9 289.1L218.9 288.9L219.9 288.8L220.9 288.6L221.9 288.4L222.9 288.3L224 288.1L225 288L226 287.8L227 287.6L228 287.5L229 287.3L230 287.2L231 287L232 286.9L233.1 286.7L234.1 286.6L235.1 286.4L236.1 286.3L237.1 286.1L238.1 286L239.1 285.9L240.1 285.7L241.1 285.6L242.2 285.4L243.2 285.3L244.2 285.2L245.2 285L246.2 284.9L247.2 284.8L248.2 284.6L249.2 284.5L250.2 284.4L251.3 284.3L252.3 284.1L253.3 284L254.3 283.9L255.3 283.8L256.3 283.7L257.3 283.6L258.3 283.5L259.3 283.4L260.4 283.4L261.4 283.3L262.4 283.2L263.4 283.2L264.4 283.2L265.4 283.1L266.4 283.1L267.4 283.1L268.4 283.1L269.5 283.1L270.5 283.1L271.5 283.1L272.5 283.1L273.5 283.1L274.5 283.1L275.5 283.1L276.5 283.1L277.6 283.1L278.6 283L279.6 283L280.6 283L281.6 282.9L282.6 282.9L283.6 282.8L284.6 282.8L285.6 282.7L286.7 282.7L287.7 282.6L288.7 282.6L289.7 282.5L290.7 282.5L291.7 282.4L292.7 282.4L293.7 282.3L294.7 282.3L295.8 282.2L296.8 282.2L297.8 282.2L298.8 282.1L299.8 282.1L300.8 282L301.8 282L302.8 282L303.8 281.9L304.9 281.9L305.9 281.9L306.9 281.8L307.9 281.8L308.9 281.8L309.9 281.8L310.9 281.7L311.9 281.7L312.9 281.6L314 281.6L315 281.5L316 281.5L317 281.4L318 281.4L319 281.3L320 281.2L321 281.1L322.1 281L323.1 281L324.1 280.9L325.1 280.8L326.1 280.8L327.1 280.7L328.1 280.7L329.1 280.7L330.1 280.6L331.2 280.6L332.2 280.6L333.2 280.7L334.2 280.7L335.2 280.7L336.2 280.7L337.2 280.8L338.2 280.8L339.2 280.9L340.3 280.9L341.3 281L342.3 281.1L343.3 281.1L344.3 281.2" stroke="#4DBEEE"/>
<path d="M40.9 256L41.9 256.1L42.9 256.2L43.9 256.3L44.9 256.4L46 256.5L47 256.6L48 256.7L49 256.9L50 257L51 257.1L52 257.2L53 257.3L54 257.5L55.1 257.6L56.1 257.7L57.1 257.8L58.1 257.9L59.1 258.1L60.1 258.2L61.1 258.3L62.1 258.4L63.1 258.5L64.2 258.5L65.2 258.6L66.2 258.7L67.2 258.7L68.2 258.8L69.2 258.8L70.2 258.8L71.2 258.9L72.3 258.9L73.3 259L74.3 259.1L75.3 259.1L76.3 259.2L77.3 259.4L78.3 259.5L79.3 259.7L80.3 259.8L81.4 260L82.4 260.2L83.4 260.4L84.4 260.6L85.4 260.8L86.4 261L87.4 261.2L88.4 261.5L89.4 261.7L90.5 262L91.5 262.2L92.5 262.5L93.5 262.7L94.5 263L95.5 263.3L96.5 263.6L97.5 263.9L98.5 264.2L99.6 264.5L100.6 264.8L101.6 265.1L102.6 265.4L103.6 265.8L104.6 266.1L105.6 266.5L106.6 266.8L107.6 267.2L108.7 267.5L109.7 267.9L110.7 268.3L111.7 268.7L112.7 269L113.7 269.4L114.7 269.8L115.7 270.2L116.8 270.6L117.8 271L118.8 271.3L119.8 271.7L120.8 272.1L121.8 272.5L122.8 272.9L123.8 273.2L124.8 273.6L125.9 274L126.9 274.4L127.9 274.8L128.9 275.2L129.9 275.5L130.9 275.9L131.9 276.3L132.9 276.7L133.9 277.1L135 277.5L136 277.9L137 278.2L138 278.6L139 279L140 279.4L141 279.8L142 280.2L143 280.6L144.1 281L145.1 281.4L146.1 281.8L147.1 282.2L148.1 282.6L149.1 282.9L150.1 283.3L151.1 283.7L152.1 284.1L153.2 284.5L154.2 284.9L155.2 285.2L156.2 285.6L157.2 286L158.2 286.3L159.2 286.7L160.2 287.1L161.2 287.4L162.3 287.7L163.3 288.1L164.3 288.4L165.3 288.7L166.3 289.1L167.3 289.4L168.3 289.7L169.3 290L170.4 290.3L171.4 290.5L172.4 290.8L173.4 291.1L174.4 291.3L175.4 291.6L176.4 291.8L177.4 292L178.4 292.2L179.5 292.4L180.5 292.6L181.5 292.8L182.5 293L183.5 293.1L184.5 293.2L185.5 293.4L186.5 293.5L186.7 293.5L186.8 293.5L187 293.5L187.1 293.5L187.3 293.6L187.4 293.6L187.5 293.6L187.6 293.6L187.7 293.6L187.9 293.6L188 293.6L188.2 293.6L188.4 293.7L188.5 293.7L188.6 293.7L188.7 293.7L188.8 293.7L189 293.7L189.1 293.7L189.3 293.7L189.4 293.7L189.6 293.7L189.7 293.8L189.9 293.8L190 293.8L190.2 293.8L190.3 293.8L190.5 293.8L190.6 293.8L190.8 293.8L190.9 293.8L191.1 293.8L191.2 293.8L191.4 293.8L191.5 293.9L191.6 293.9L191.7 293.9L191.8 293.9L192 293.9L192.1 293.9L192.3 293.9L192.4 293.9L192.6 293.9L192.8 293.9L192.9 293.9L193.1 293.9L193.2 293.9L193.4 293.9L193.5 293.9L193.6 293.9L193.7 293.9L193.8 293.9L194 293.9L194.1 293.9L194.3 293.9L194.4 293.9L194.6 293.9L194.7 293.9L194.9 293.9L195 293.9L195.2 293.9L195.3 293.9L195.5 293.9L195.6 293.9L195.8 293.9L195.9 293.9L196.1 293.9L196.2 293.9L196.4 293.9L196.5 293.9L196.6 293.9L196.7 293.9L196.8 293.9L197 293.9L197.2 293.9L197.3 293.9L197.5 293.9L197.6 293.9L197.7 293.9L197.8 293.9L197.9 293.9L198.1 293.9L198.2 293.9L198.4 293.9L198.5 293.9L198.7 293.9L198.8 293.9L199 293.9L199.1 293.9L199.3 293.9L199.4 293.9L199.6 293.9L199.7 293.9L199.9 293.9L200 293.9L200.2 293.9L200.3 293.9L200.5 293.9L200.6 293.9L200.7 293.9L200.8 293.9L200.9 293.9L201.1 293.9L201.2 293.9L201.4 293.9L201.6 293.9L201.7 293.9L201.9 293.9L202 293.9L202.2 293.9L202.3 293.9L202.5 293.9L202.6 293.9L202.7 293.9L202.8 293.9L202.9 293.9L203.1 293.9L203.2 293.9L203.4 293.9L203.5 293.9L203.7 293.9L203.8 293.9L204 293.9L204.1 293.9L204.3 293.9L204.4 293.9L204.6 293.9L204.7 293.9L205.7 293.9L206.8 293.9L207.8 293.9L208.8 293.9L209.8 293.9L210.8 293.9L211.8 293.9L212.8 293.9L213.8 293.8L214.8 293.8L215.9 293.8L216.9 293.7L217.9 293.7L218.9 293.7L219.9 293.6L220.9 293.6L221.9 293.5L222.9 293.5L224 293.4L225 293.3L226 293.2L227 293.2L228 293.1L229 293L230 292.9L231 292.9L232 292.8L233.1 292.7L234.1 292.6L235.1 292.6L236.1 292.5L237.1 292.4L238.1 292.3L239.1 292.3L240.1 292.2L241.1 292.1L242.2 292L243.2 292L244.2 291.9L245.2 291.8L246.2 291.8L247.2 291.7L248.2 291.6L249.2 291.5L250.2 291.5L251.3 291.4L252.3 291.3L253.3 291.3L254.3 291.2L255.3 291.1L256.3 291.1L257.3 291L258.3 290.9L259.3 290.9L260.4 290.8L261.4 290.7L262.4 290.7L263.4 290.6L264.4 290.6L265.4 290.5L266.4 290.4L267.4 290.4L268.4 290.3L269.5 290.3L270.5 290.2L271.5 290.1L272.5 290.1L273.5 290L274.5 290L275.5 289.9L276.5 289.8L277.6 289.8L278.6 289.7L279.6 289.6L280.6 289.6L281.6 289.5L282.6 289.4L283.6 289.3L284.6 289.3L285.6 289.2L286.7 289.1L287.7 289L288.7 288.9L289.7 288.8L290.7 288.8L291.7 288.7L292.7 288.6L293.7 288.5L294.7 288.4L295.8 288.3L296.8 288.2L297.8 288.2L298.8 288.1L299.8 288L300.8 287.9L301.8 287.8L302.8 287.7L303.8 287.6L304.9 287.5L305.9 287.5L306.9 287.4L307.9 287.3L308.9 287.2L309.9 287.1L310.9 287L311.9 287L312.9 286.9L314 286.8L315 286.7L316 286.7L317 286.6L318 286.6L319 286.5L320 286.4L321 286.4L322.1 286.4L323.1 286.3L324.1 286.3L325.1 286.2L326.1 286.2L327.1 286.1L328.1 286.1L329.1 286L330.1 285.9L331.2 285.9L332.2 285.8L333.2 285.7L334.2 285.6L335.2 285.6L336.2 285.5L337.2 285.4L338.2 285.3L339.2 285.2L340.3 285.1L341.3 285L342.3 284.9L343.3 284.8L344.3 284.7" stroke="#A2142F"/>
<path d="M40.9 256L41.9 256.1L42.9 256.2L43.9 256.3L44.9 256.4L46 256.6L47 256.7L48 256.8L49 256.9L50 257.1L51 257.2L52 257.3L53 257.4L54 257.6L55.1 257.7L56.1 257.8L57.1 257.9L58.1 258.1L59.1 258.2L60.1 258.3L61.1 258.4L62.1 258.5L63.1 258.6L64.2 258.7L65.2 258.7L66.2 258.8L67.2 258.8L68.2 258.8L69.2 258.9L70.2 258.9L71.2 258.9L72.3 258.9L73.3 259L74.3 259L75.3 259.1L76.3 259.2L77.3 259.3L78.3 259.4L79.3 259.6L80.3 259.7L81.4 259.9L82.4 260.1L83.4 260.2L84.4 260.4L85.4 260.6L86.4 260.9L87.4 261.1L88.4 261.3L89.4 261.5L90.5 261.8L91.5 262L92.5 262.2L93.5 262.5L94.5 262.8L95.5 263L96.5 263.3L97.5 263.6L98.5 263.8L99.6 264.1L100.6 264.4L101.6 264.7L102.6 265L103.6 265.3L104.6 265.6L105.6 266L106.6 266.3L107.6 266.6L108.7 267L109.7 267.3L110.7 267.7L111.7 268L112.7 268.4L113.7 268.7L114.7 269.1L115.7 269.5L116.8 269.8L117.8 270.2L118.8 270.6L119.8 270.9L120.8 271.3L121.8 271.7L122.8 272L123.8 272.4L124.8 272.8L125.9 273.1L126.9 273.5L127.9 273.9L128.9 274.2L129.9 274.6L130.9 274.9L131.9 275.3L132.9 275.7L133.9 276L135 276.4L136 276.7L137 277.1L138 277.4L139 277.8L140 278.1L141 278.4L142 278.8L143 279.1L144.1 279.5L145.1 279.8L146.1 280.1L147.1 280.4L148.1 280.8L149.1 281.1L150.1 281.4L151.1 281.7L152.1 282.1L153.2 282.4L154.2 282.7L155.2 283L156.2 283.3L157.2 283.6L158.2 283.9L159.2 284.3L160.2 284.6L161.2 284.9L162.3 285.2L163.3 285.5L164.3 285.8L165.3 286.1L166.3 286.4L167.3 286.7L168.3 287L169.3 287.3L170.4 287.7L171.4 288L172.4 288.3L173.4 288.6L174.4 288.8L175.4 289.1L176.4 289.4L177.4 289.7L178.4 290L179.5 290.3L180.5 290.5L181.5 290.8L182.5 291.1L183.5 291.3L184.5 291.6L185.5 291.8L186.5 292L187.5 292.3L188.6 292.5L189.6 292.7L190.6 292.9L191.6 293.1L192.6 293.3L193.6 293.5L194.6 293.6L195.6 293.8L196.6 293.9L197.7 294.1L198.7 294.2L199.7 294.3L200.7 294.4L201.7 294.6L202.7 294.7L203.7 294.8L204.1 294.8L204.3 294.8L204.4 294.8L204.6 294.8L204.7 294.8L204.9 294.9L205 294.9L205.2 294.9L205.3 294.9L205.5 294.9L205.6 294.9L205.7 294.9L205.8 294.9L205.9 295L206.1 295L206.3 295L206.4 295L206.6 295L206.7 295L206.8 295L206.9 295L207 295L207.2 295L207.3 295.1L207.5 295.1L207.6 295.1L207.8 295.1L207.9 295.1L208.1 295.1L208.2 295.1L208.4 295.1L208.5 295.1L208.7 295.1L208.8 295.2L209 295.2L209.1 295.2L209.3 295.2L209.4 295.2L209.6 295.2L209.7 295.2L209.8 295.2L209.9 295.2L210 295.2L210.2 295.2L210.3 295.2L210.5 295.2L210.7 295.3L210.8 295.3L211 295.3L211.1 295.3L211.3 295.3L211.4 295.3L211.6 295.3L211.7 295.3L211.8 295.3L211.9 295.3L212 295.3L212.2 295.3L212.3 295.3L212.5 295.3L212.6 295.3L212.8 295.3L212.9 295.3L213.1 295.3L213.2 295.4L213.4 295.4L213.5 295.4L213.7 295.4L213.8 295.4L214 295.4L214.1 295.4L214.3 295.4L214.4 295.4L214.6 295.4L214.7 295.4L214.8 295.4L214.9 295.4L215.1 295.4L215.2 295.4L215.4 295.4L215.5 295.4L215.7 295.4L215.8 295.4L215.9 295.4L216 295.4L216.1 295.4L216.3 295.4L216.4 295.4L216.6 295.4L216.7 295.4L216.9 295.4L217 295.4L217.2 295.4L217.3 295.4L217.5 295.4L217.6 295.4L217.8 295.4L217.9 295.4L218.1 295.4L218.2 295.4L218.4 295.4L218.5 295.5L218.7 295.5L218.8 295.5L218.9 295.5L219 295.5L219.1 295.5L219.3 295.5L219.5 295.5L219.6 295.5L219.8 295.5L219.9 295.5L220.1 295.5L220.2 295.5L220.4 295.5L220.5 295.5L220.7 295.5L220.8 295.5L220.9 295.5L221 295.5L221.1 295.5L221.3 295.5L221.4 295.5L221.6 295.5L221.7 295.5L221.9 295.5L222 295.5L222.2 295.5L222.3 295.5L222.9 295.5L224 295.5L225 295.4L226 295.4L227 295.4L228 295.4L229 295.4L230 295.3L231 295.3L232 295.3L233.1 295.2L234.1 295.2L235.1 295.1L236.1 295.1L237.1 295L238.1 295L239.1 294.9L240.1 294.8L241.1 294.8L242.2 294.7L243.2 294.6L244.2 294.5L245.2 294.4L246.2 294.4L247.2 294.3L248.2 294.2L249.2 294.1L250.2 294L251.3 293.9L252.3 293.8L253.3 293.7L254.3 293.6L255.3 293.4L256.3 293.3L257.3 293.2L258.3 293.1L259.3 292.9L260.4 292.8L261.4 292.7L262.4 292.5L263.4 292.4L264.4 292.3L265.4 292.1L266.4 292L267.4 291.8L268.4 291.6L269.5 291.5L270.5 291.3L271.5 291.2L272.5 291L273.5 290.9L274.5 290.7L275.5 290.6L276.5 290.4L277.6 290.3L278.6 290.1L279.6 289.9L280.6 289.8L281.6 289.6L282.6 289.5L283.6 289.3L284.6 289.1L285.6 289L286.7 288.8L287.7 288.7L288.7 288.5L289.7 288.3L290.7 288.2L291.7 288L292.7 287.8L293.7 287.7L294.7 287.5L295.8 287.4L296.8 287.2L297.8 287L298.8 286.9L299.8 286.7L300.8 286.5L301.8 286.4L302.8 286.2L303.8 286.1L304.9 285.9L305.9 285.7L306.9 285.6L307.9 285.4L308.9 285.3L309.9 285.1L310.9 285L311.9 284.8L312.9 284.7L314 284.6L315 284.4L316 284.3L317 284.2L318 284.1L319 283.9L320 283.8L321 283.7L322.1 283.6L323.1 283.5L324.1 283.3L325.1 283.2L326.1 283.1L327.1 283L328.1 282.8L329.1 282.7L330.1 282.6L331.2 282.4L332.2 282.3L333.2 282.1L334.2 282L335.2 281.9L336.2 281.7L337.2 281.6L338.2 281.4L339.2 281.3L340.3 281.2L341.3 281L342.3 280.9L343.3 280.7L344.3 280.6" stroke="#0072BD"/>
<path d="M40.9 255.6L41.9 255.7L42.9 255.9L43.9 256L44.9 256.1L46 256.2L47 256.3L48 256.4L49 256.5L50 256.7L51 256.8L52 256.9L53 257L54 257.1L55.1 257.3L56.1 257.4L57.1 257.5L58.1 257.6L59.1 257.7L60.1 257.8L61.1 258L62.1 258.1L63.1 258.2L64.2 258.3L65.2 258.3L66.2 258.4L67.2 258.5L68.2 258.6L69.2 258.6L70.2 258.7L71.2 258.7L72.3 258.8L73.3 258.9L74.3 259L75.3 259.1L76.3 259.2L77.3 259.3L78.3 259.4L79.3 259.6L80.3 259.7L81.4 259.9L82.4 260L83.4 260.2L84.4 260.4L85.4 260.6L86.4 260.8L87.4 260.9L88.4 261.1L89.4 261.3L90.5 261.6L91.5 261.8L92.5 262L93.5 262.2L94.5 262.4L95.5 262.6L96.5 262.9L97.5 263.1L98.5 263.3L99.6 263.6L100.6 263.8L101.6 264.1L102.6 264.3L103.6 264.6L104.6 264.9L105.6 265.1L106.6 265.4L107.6 265.7L108.7 266L109.7 266.3L110.7 266.6L111.7 266.8L112.7 267.1L113.7 267.4L114.7 267.7L115.7 268L116.8 268.3L117.8 268.6L118.8 268.9L119.8 269.2L120.8 269.5L121.8 269.8L122.8 270.1L123.8 270.4L124.8 270.7L125.9 271L126.9 271.2L127.9 271.5L128.9 271.8L129.9 272.1L130.9 272.4L131.9 272.7L132.9 273L133.9 273.3L135 273.6L136 273.9L137 274.2L138 274.5L139 274.8L140 275.1L141 275.4L142 275.7L143 276L144.1 276.3L145.1 276.6L146.1 276.9L147.1 277.2L148.1 277.5L149.1 277.8L150.1 278.1L151.1 278.5L152.1 278.8L153.2 279.1L154.2 279.4L155.2 279.7L156.2 280L157.2 280.3L158.2 280.6L159.2 281L160.2 281.3L161.2 281.6L162.3 281.9L163.3 282.2L164.3 282.5L165.3 282.9L166.3 283.2L167.3 283.5L168.3 283.8L169.3 284.1L170.4 284.4L171.4 284.8L172.4 285.1L173.4 285.4L174.4 285.7L175.4 286L176.4 286.3L177.4 286.7L178.4 287L179.5 287.3L180.5 287.6L181.5 287.9L182.5 288.2L183.5 288.5L184.5 288.8L185.5 289.1L186.5 289.4L187.5 289.7L188.6 290L189.6 290.3L190.6 290.5L191.6 290.8L192.6 291.1L193.6 291.4L194.6 291.6L195.6 291.9L196.6 292.1L197.7 292.4L198.7 292.6L199.7 292.9L200.7 293.1L201.7 293.3L202.7 293.5L203.7 293.8L204.7 294L205.7 294.2L206.8 294.4L207.8 294.5L208.8 294.7L209.8 294.9L210.8 295.1L211.8 295.2L212.8 295.4L213.8 295.5L214.8 295.6L215.9 295.8L216.9 295.9L217.9 296L218.9 296.1L219 296.1L219.2 296.1L219.3 296.2L219.5 296.2L219.6 296.2L219.8 296.2L219.9 296.2L220.1 296.2L220.2 296.2L220.4 296.2L220.5 296.3L220.7 296.3L220.8 296.3L220.9 296.3L221 296.3L221.1 296.3L221.3 296.3L221.4 296.3L221.6 296.3L221.8 296.4L221.9 296.4L222.1 296.4L222.2 296.4L222.4 296.4L222.5 296.4L222.7 296.4L222.8 296.4L222.9 296.4L223 296.4L223.1 296.5L223.3 296.5L223.4 296.5L223.6 296.5L223.7 296.5L223.9 296.5L224 296.5L224.2 296.5L224.3 296.5L224.5 296.5L224.6 296.5L224.8 296.6L224.9 296.6L225 296.6L225.1 296.6L225.2 296.6L225.4 296.6L225.5 296.6L225.7 296.6L225.8 296.6L226 296.6L226.1 296.6L226.3 296.6L226.5 296.6L226.6 296.6L226.8 296.6L226.9 296.6L227 296.6L227.1 296.6L227.2 296.7L227.4 296.7L227.5 296.7L227.7 296.7L227.8 296.7L228 296.7L228.1 296.7L228.3 296.7L228.4 296.7L228.6 296.7L228.7 296.7L228.9 296.7L229 296.7L229.2 296.7L229.3 296.7L229.5 296.7L229.6 296.7L229.8 296.7L229.9 296.7L230 296.7L230.1 296.7L230.2 296.7L230.4 296.7L230.5 296.7L230.7 296.7L230.9 296.7L231 296.7L231.2 296.7L231.3 296.7L231.5 296.7L231.6 296.7L231.8 296.7L231.9 296.7L232 296.7L232.1 296.7L232.2 296.7L232.4 296.7L232.5 296.7L232.7 296.7L232.8 296.7L233 296.7L233.1 296.7L233.3 296.7L233.4 296.7L233.6 296.7L233.7 296.7L233.9 296.7L234 296.7L234.1 296.7L234.2 296.7L234.3 296.7L234.5 296.7L234.6 296.7L234.8 296.7L234.9 296.7L235.1 296.7L235.3 296.7L235.4 296.7L235.6 296.7L235.7 296.7L235.9 296.7L236 296.7L236.1 296.7L236.2 296.7L236.3 296.7L236.5 296.7L236.6 296.7L236.8 296.7L236.9 296.7L237.1 296.7L237.2 296.7L238.1 296.6L239.1 296.6L240.1 296.6L241.1 296.5L242.2 296.5L243.2 296.4L244.2 296.4L245.2 296.3L246.2 296.2L247.2 296.1L248.2 296.1L249.2 296L250.2 295.9L251.3 295.8L252.3 295.7L253.3 295.6L254.3 295.5L255.3 295.4L256.3 295.2L257.3 295.1L258.3 295L259.3 294.8L260.4 294.7L261.4 294.6L262.4 294.4L263.4 294.3L264.4 294.1L265.4 294L266.4 293.8L267.4 293.6L268.4 293.5L269.5 293.3L270.5 293.1L271.5 293L272.5 292.8L273.5 292.6L274.5 292.4L275.5 292.2L276.5 292L277.6 291.8L278.6 291.7L279.6 291.5L280.6 291.3L281.6 291L282.6 290.8L283.6 290.6L284.6 290.4L285.6 290.2L286.7 290L287.7 289.8L288.7 289.6L289.7 289.4L290.7 289.1L291.7 288.9L292.7 288.7L293.7 288.5L294.7 288.2L295.8 288L296.8 287.8L297.8 287.6L298.8 287.4L299.8 287.1L300.8 286.9L301.8 286.7L302.8 286.4L303.8 286.2L304.9 286L305.9 285.8L306.9 285.5L307.9 285.3L308.9 285.1L309.9 284.8L310.9 284.6L311.9 284.4L312.9 284.1L314 283.9L315 283.7L316 283.4L317 283.2L318 282.9L319 282.7L320 282.5L321 282.2L322.1 282L323.1 281.8L324.1 281.5L325.1 281.3L326.1 281.1L327.1 280.8L328.1 280.6L329.1 280.4L330.1 280.2L331.2 280L332.2 279.8L333.2 279.6L334.2 279.4L335.2 279.1L336.2 278.9L337.2 278.7L338.2 278.5L339.2 278.3L340.3 278.1L341.3 278L342.3 277.8L343.3 277.6L344.3 277.4" stroke="#D95319"/>
<path d="M40.9 255.6L41.9 255.7L42.9 255.8L43.9 256L44.9 256.1L46 256.2L47 256.3L48 256.4L49 256.5L50 256.6L51 256.7L52 256.9L53 257L54 257.1L55.1 257.2L56.1 257.3L57.1 257.5L58.1 257.6L59.1 257.7L60.1 257.8L61.1 257.9L62.1 258L63.1 258.1L64.2 258.2L65.2 258.3L66.2 258.4L67.2 258.5L68.2 258.6L69.2 258.6L70.2 258.7L71.2 258.8L72.3 258.8L73.3 258.9L74.3 259L75.3 259.1L76.3 259.2L77.3 259.4L78.3 259.5L79.3 259.6L80.3 259.8L81.4 259.9L82.4 260.1L83.4 260.3L84.4 260.4L85.4 260.6L86.4 260.8L87.4 261L88.4 261.2L89.4 261.4L90.5 261.6L91.5 261.8L92.5 262L93.5 262.2L94.5 262.4L95.5 262.6L96.5 262.9L97.5 263.1L98.5 263.3L99.6 263.6L100.6 263.8L101.6 264.1L102.6 264.3L103.6 264.6L104.6 264.8L105.6 265.1L106.6 265.3L107.6 265.6L108.7 265.9L109.7 266.2L110.7 266.4L111.7 266.7L112.7 267L113.7 267.3L114.7 267.6L115.7 267.9L116.8 268.1L117.8 268.4L118.8 268.7L119.8 269L120.8 269.3L121.8 269.6L122.8 269.9L123.8 270.2L124.8 270.4L125.9 270.7L126.9 271L127.9 271.3L128.9 271.6L129.9 271.9L130.9 272.2L131.9 272.4L132.9 272.7L133.9 273L135 273.3L136 273.6L137 273.9L138 274.1L139 274.4L140 274.7L141 275L142 275.3L143 275.6L144.1 275.8L145.1 276.1L146.1 276.4L147.1 276.7L148.1 277L149.1 277.2L150.1 277.5L151.1 277.8L152.1 278.1L153.2 278.4L154.2 278.6L155.2 278.9L156.2 279.2L157.2 279.5L158.2 279.8L159.2 280.1L160.2 280.3L161.2 280.6L162.3 280.9L163.3 281.2L164.3 281.5L165.3 281.8L166.3 282.1L167.3 282.3L168.3 282.6L169.3 282.9L170.4 283.2L171.4 283.5L172.4 283.8L173.4 284.1L174.4 284.3L175.4 284.6L176.4 284.9L177.4 285.2L178.4 285.5L179.5 285.8L180.5 286.1L181.5 286.3L182.5 286.6L183.5 286.9L184.5 287.2L185.5 287.4L186.5 287.7L187.5 288L188.6 288.3L189.6 288.5L190.6 288.8L191.6 289L192.6 289.3L193.6 289.5L194.6 289.8L195.6 290L196.6 290.3L197.7 290.5L198.7 290.7L199.7 290.9L200.7 291.1L201.7 291.4L202.7 291.6L203.7 291.7L204.7 291.9L205.7 292.1L206.8 292.3L207.8 292.4L208.8 292.6L209.8 292.7L210.8 292.9L211.8 293L212.8 293.1L213.8 293.3L214.8 293.4L215.9 293.5L216.9 293.6L217 293.6L217.2 293.6L217.3 293.6L217.5 293.6L217.6 293.6L217.8 293.7L217.9 293.7L218.1 293.7L218.2 293.7L218.4 293.7L218.5 293.7L218.7 293.7L218.8 293.7L218.9 293.7L219 293.7L219.1 293.8L219.3 293.8L219.5 293.8L219.6 293.8L219.8 293.8L219.9 293.8L220.1 293.8L220.2 293.8L220.4 293.8L220.5 293.8L220.7 293.9L220.8 293.9L220.9 293.9L221 293.9L221.1 293.9L221.3 293.9L221.4 293.9L221.6 293.9L221.7 293.9L221.9 293.9L222 293.9L222.2 293.9L222.3 293.9L222.5 294L222.6 294L222.8 294L222.9 294L223.1 294L223.2 294L223.4 294L223.5 294L223.7 294L223.9 294L224 294L224.2 294L224.3 294L224.5 294L224.6 294L224.8 294L224.9 294L225 294.1L225.1 294.1L225.2 294.1L225.4 294.1L225.5 294.1L225.7 294.1L225.8 294.1L226 294.1L226.1 294.1L226.3 294.1L226.4 294.1L226.6 294.1L226.7 294.1L226.9 294.1L227 294.1L227.2 294.1L227.3 294.1L227.5 294.1L227.6 294.1L227.8 294.1L227.9 294.1L228 294.1L228.1 294.1L228.2 294.1L228.4 294.1L228.6 294.1L228.7 294.1L228.9 294.1L229 294.1L229.2 294.1L229.3 294.1L229.5 294.1L229.6 294.1L229.8 294.1L229.9 294.1L230 294.1L230.1 294.1L230.2 294.1L230.4 294.1L230.5 294.1L230.7 294.1L230.8 294.1L231 294.1L231.1 294.1L231.3 294.1L231.4 294.1L231.6 294.1L231.7 294.1L231.9 294.1L232 294.1L232.2 294.1L232.3 294.1L232.5 294.1L232.6 294.1L232.8 294.1L233 294.1L233.1 294.1L233.3 294.1L233.4 294.1L233.6 294.1L233.7 294.1L233.9 294.1L234 294.1L234.1 294.1L234.2 294.1L234.3 294.1L234.5 294.1L234.6 294.1L234.8 294.1L234.9 294.1L235.1 294.1L236.1 294L237.1 294L238.1 294L239.1 293.9L240.1 293.9L241.1 293.8L242.2 293.8L243.2 293.7L244.2 293.6L245.2 293.6L246.2 293.5L247.2 293.4L248.2 293.3L249.2 293.2L250.2 293.1L251.3 293L252.3 292.9L253.3 292.8L254.3 292.7L255.3 292.6L256.3 292.5L257.3 292.4L258.3 292.2L259.3 292.1L260.4 292L261.4 291.8L262.4 291.7L263.4 291.5L264.4 291.4L265.4 291.2L266.4 291.1L267.4 290.9L268.4 290.7L269.5 290.6L270.5 290.4L271.5 290.2L272.5 290.1L273.5 289.9L274.5 289.7L275.5 289.5L276.5 289.3L277.6 289.1L278.6 288.9L279.6 288.7L280.6 288.5L281.6 288.3L282.6 288.1L283.6 287.9L284.6 287.7L285.6 287.5L286.7 287.3L287.7 287.1L288.7 286.9L289.7 286.7L290.7 286.5L291.7 286.3L292.7 286.1L293.7 285.9L294.7 285.7L295.8 285.5L296.8 285.3L297.8 285.1L298.8 284.9L299.8 284.7L300.8 284.4L301.8 284.2L302.8 284L303.8 283.8L304.9 283.6L305.9 283.4L306.9 283.2L307.9 283L308.9 282.8L309.9 282.6L310.9 282.4L311.9 282.2L312.9 282L314 281.8L315 281.6L316 281.3L317 281.1L318 280.9L319 280.7L320 280.5L321 280.3L322.1 280.1L323.1 280L324.1 279.8L325.1 279.6L326.1 279.4L327.1 279.2L328.1 279L329.1 278.8L330.1 278.6L331.2 278.4L332.2 278.2L333.2 278.1L334.2 277.9L335.2 277.7L336.2 277.5L337.2 277.3L338.2 277.2L339.2 277L340.3 276.8L341.3 276.6L342.3 276.5L343.3 276.3L344.3 276.1" stroke="#EDB120"/>
</g>
<rect x="40.9" y="249" width="303.4" height="223.4" fill="none" stroke="#767676" stroke-width="1"/>
<line x1="40.9" y1="472.4" x2="40.9" y2="469.4" stroke="#767676" stroke-width="1.0"/>
<line x1="40.9" y1="249" x2="40.9" y2="252" stroke="#767676" stroke-width="1.0"/>
<line x1="101.58" y1="472.4" x2="101.58" y2="469.4" stroke="#767676" stroke-width="1.0"/>
<line x1="101.58" y1="249" x2="101.58" y2="252" stroke="#767676" stroke-width="1.0"/>
<line x1="162.26" y1="472.4" x2="162.26" y2="469.4" stroke="#767676" stroke-width="1.0"/>
<line x1="162.26" y1="249" x2="162.26" y2="252" stroke="#767676" stroke-width="1.0"/>
<line x1="222.94" y1="472.4" x2="222.94" y2="469.4" stroke="#767676" stroke-width="1.0"/>
<line x1="222.94" y1="249" x2="222.94" y2="252" stroke="#767676" stroke-width="1.0"/>
<line x1="283.62" y1="472.4" x2="283.62" y2="469.4" stroke="#767676" stroke-width="1.0"/>
<line x1="283.62" y1="249" x2="283.62" y2="252" stroke="#767676" stroke-width="1.0"/>
<line x1="344.3" y1="472.4" x2="344.3" y2="469.4" stroke="#767676" stroke-width="1.0"/>
<line x1="344.3" y1="249" x2="344.3" y2="252" stroke="#767676" stroke-width="1.0"/>
<line x1="40.9" y1="249" x2="43.9" y2="249" stroke="#767676" stroke-width="1.0"/>
<line x1="344.3" y1="249" x2="341.3" y2="249" stroke="#767676" stroke-width="1.0"/>
<line x1="40.9" y1="304.85" x2="43.9" y2="304.85" stroke="#767676" stroke-width="1.0"/>
<line x1="344.3" y1="304.85" x2="341.3" y2="304.85" stroke="#767676" stroke-width="1.0"/>
<line x1="40.9" y1="360.7" x2="43.9" y2="360.7" stroke="#767676" stroke-width="1.0"/>
<line x1="344.3" y1="360.7" x2="341.3" y2="360.7" stroke="#767676" stroke-width="1.0"/>
<line x1="40.9" y1="416.55" x2="43.9" y2="416.55" stroke="#767676" stroke-width="1.0"/>
<line x1="344.3" y1="416.55" x2="341.3" y2="416.55" stroke="#767676" stroke-width="1.0"/>
<line x1="40.9" y1="472.4" x2="43.9" y2="472.4" stroke="#767676" stroke-width="1.0"/>
<line x1="344.3" y1="472.4" x2="341.3" y2="472.4" stroke="#767676" stroke-width="1.0"/>
<text x="36.5" y="254.1" font-size="11.9" text-anchor="end" fill="#262626">0</text>
<text x="36.5" y="309.95" font-size="11.9" text-anchor="end" fill="#262626">-5</text>
<text x="36.5" y="365.8" font-size="11.9" text-anchor="end" fill="#262626">-10</text>
<text x="36.5" y="421.65" font-size="11.9" text-anchor="end" fill="#262626">-15</text>
<text x="36.5" y="477.5" font-size="11.9" text-anchor="end" fill="#262626">-20</text>
<text x="40.9" y="489.2" font-size="11.4" text-anchor="middle" fill="#262626">1</text>
<text x="101.58" y="489.2" font-size="11.4" text-anchor="middle" fill="#262626">1.2</text>
<text x="162.26" y="489.2" font-size="11.4" text-anchor="middle" fill="#262626">1.4</text>
<text x="222.94" y="489.2" font-size="11.4" text-anchor="middle" fill="#262626">1.6</text>
<text x="283.62" y="489.2" font-size="11.4" text-anchor="middle" fill="#262626">1.8</text>
<text x="344.3" y="489.2" font-size="11.4" text-anchor="middle" fill="#262626">2</text>
<text transform="translate(12.9 360.3) rotate(-90)" font-size="13.8" text-anchor="middle" fill="#262626">S21 (dB)</text>
<text x="193.3" y="506.4" font-size="13.6" text-anchor="middle" fill="#262626">Frequency (GHz)</text>
<text x="62.6" y="459.6" font-size="16.5" text-anchor="start" fill="#000">(b)</text>
<text font-size="14.4" font-weight="bold" font-style="italic" fill="#000" text-anchor="middle"><tspan x="101.7" y="352.8">Distance in</tspan><tspan x="101.7" y="371.0">cm range</tspan></text>
<rect x="258.2" y="310.1" width="62.6" height="145.3" fill="#fff" stroke="#767676" stroke-width="1"/>
<line x1="260.9" y1="318.5" x2="286.6" y2="318.5" stroke="#0072BD" stroke-width="2.5"/>
<text x="289" y="323.4" font-size="11.2" text-anchor="start" fill="#262626">1 cm</text>
<line x1="260.9" y1="332.7" x2="286.6" y2="332.7" stroke="#D95319" stroke-width="2.5"/>
<text x="289" y="337.6" font-size="11.2" text-anchor="start" fill="#262626">2 cm</text>
<line x1="260.9" y1="346.9" x2="286.6" y2="346.9" stroke="#EDB120" stroke-width="2.5"/>
<text x="289" y="351.8" font-size="11.2" text-anchor="start" fill="#262626">3 cm</text>
<line x1="260.9" y1="361.1" x2="286.6" y2="361.1" stroke="#7E2F8E" stroke-width="2.5"/>
<text x="289" y="366" font-size="11.2" text-anchor="start" fill="#262626">4 cm</text>
<line x1="260.9" y1="375.3" x2="286.6" y2="375.3" stroke="#77AC30" stroke-width="2.5"/>
<text x="289" y="380.2" font-size="11.2" text-anchor="start" fill="#262626">5 cm</text>
<line x1="260.9" y1="389.5" x2="286.6" y2="389.5" stroke="#4DBEEE" stroke-width="2.5"/>
<text x="289" y="394.4" font-size="11.2" text-anchor="start" fill="#262626">6 cm</text>
<line x1="260.9" y1="403.7" x2="286.6" y2="403.7" stroke="#A2142F" stroke-width="2.5"/>
<text x="289" y="408.6" font-size="11.2" text-anchor="start" fill="#262626">7 cm</text>
<line x1="260.9" y1="417.9" x2="286.6" y2="417.9" stroke="#0072BD" stroke-width="2.5"/>
<text x="289" y="422.8" font-size="11.2" text-anchor="start" fill="#262626">8 cm</text>
<line x1="260.9" y1="432.1" x2="286.6" y2="432.1" stroke="#D95319" stroke-width="2.5"/>
<text x="289" y="437" font-size="11.2" text-anchor="start" fill="#262626">9 cm</text>
<line x1="260.9" y1="446.3" x2="286.6" y2="446.3" stroke="#EDB120" stroke-width="2.5"/>
<text x="289" y="451.2" font-size="11.2" text-anchor="start" fill="#262626">10 cm</text>
<path d="M404.9 191.8L445.5 148.7L469.2 132.4L486.1 117.3L499.1 105.6L509.8 96.8L518.8 88.6L526.6 82L533.5 76.5L539.7 71.6L580.3 44.8L604 34L620.9 28.8L633.9 26.5L644.6 24.9L653.6 25.5L661.4 25.8L668.3 25.8L674.5 25.2" fill="none" stroke="#3c8fcf" stroke-width="1"/>
<circle cx="404.9" cy="191.84" r="4.9" fill="none" stroke="#3c8fcf" stroke-width="1"/>
<circle cx="445.48" cy="148.7" r="4.9" fill="none" stroke="#3c8fcf" stroke-width="1"/>
<circle cx="469.22" cy="132.37" r="4.9" fill="none" stroke="#3c8fcf" stroke-width="1"/>
<circle cx="486.06" cy="117.34" r="4.9" fill="none" stroke="#3c8fcf" stroke-width="1"/>
<circle cx="499.12" cy="105.57" r="4.9" fill="none" stroke="#3c8fcf" stroke-width="1"/>
<circle cx="509.79" cy="96.75" r="4.9" fill="none" stroke="#3c8fcf" stroke-width="1"/>
<circle cx="518.82" cy="88.58" r="4.9" fill="none" stroke="#3c8fcf" stroke-width="1"/>
<circle cx="526.64" cy="82.05" r="4.9" fill="none" stroke="#3c8fcf" stroke-width="1"/>
<circle cx="533.53" cy="76.49" r="4.9" fill="none" stroke="#3c8fcf" stroke-width="1"/>
<circle cx="539.7" cy="71.59" r="4.9" fill="none" stroke="#3c8fcf" stroke-width="1"/>
<circle cx="580.28" cy="44.8" r="4.9" fill="none" stroke="#3c8fcf" stroke-width="1"/>
<circle cx="604.02" cy="34.02" r="4.9" fill="none" stroke="#3c8fcf" stroke-width="1"/>
<circle cx="620.86" cy="28.79" r="4.9" fill="none" stroke="#3c8fcf" stroke-width="1"/>
<circle cx="633.92" cy="26.5" r="4.9" fill="none" stroke="#3c8fcf" stroke-width="1"/>
<circle cx="644.59" cy="24.87" r="4.9" fill="none" stroke="#3c8fcf" stroke-width="1"/>
<circle cx="653.62" cy="25.52" r="4.9" fill="none" stroke="#3c8fcf" stroke-width="1"/>
<circle cx="661.44" cy="25.85" r="4.9" fill="none" stroke="#3c8fcf" stroke-width="1"/>
<circle cx="668.33" cy="25.85" r="4.9" fill="none" stroke="#3c8fcf" stroke-width="1"/>
<circle cx="674.5" cy="25.19" r="4.9" fill="none" stroke="#3c8fcf" stroke-width="1"/>
<rect x="404.9" y="12.45" width="269.6" height="196.05" fill="none" stroke="#767676" stroke-width="1"/>
<line x1="404.9" y1="208.5" x2="404.9" y2="205.5" stroke="#767676" stroke-width="1.0"/>
<line x1="404.9" y1="12.45" x2="404.9" y2="15.45" stroke="#767676" stroke-width="1.0"/>
<line x1="458.54" y1="208.5" x2="458.54" y2="205.5" stroke="#767676" stroke-width="1.0"/>
<line x1="458.54" y1="12.45" x2="458.54" y2="15.45" stroke="#767676" stroke-width="1.0"/>
<line x1="499.12" y1="208.5" x2="499.12" y2="205.5" stroke="#767676" stroke-width="1.0"/>
<line x1="499.12" y1="12.45" x2="499.12" y2="15.45" stroke="#767676" stroke-width="1.0"/>
<line x1="539.7" y1="208.5" x2="539.7" y2="205.5" stroke="#767676" stroke-width="1.0"/>
<line x1="539.7" y1="12.45" x2="539.7" y2="15.45" stroke="#767676" stroke-width="1.0"/>
<line x1="593.34" y1="208.5" x2="593.34" y2="205.5" stroke="#767676" stroke-width="1.0"/>
<line x1="593.34" y1="12.45" x2="593.34" y2="15.45" stroke="#767676" stroke-width="1.0"/>
<line x1="633.92" y1="208.5" x2="633.92" y2="205.5" stroke="#767676" stroke-width="1.0"/>
<line x1="633.92" y1="12.45" x2="633.92" y2="15.45" stroke="#767676" stroke-width="1.0"/>
<line x1="674.5" y1="208.5" x2="674.5" y2="205.5" stroke="#767676" stroke-width="1.0"/>
<line x1="674.5" y1="12.45" x2="674.5" y2="15.45" stroke="#767676" stroke-width="1.0"/>
<line x1="445.48" y1="208.5" x2="445.48" y2="206.7" stroke="#767676" stroke-width="1.0"/>
<line x1="445.48" y1="12.45" x2="445.48" y2="14.25" stroke="#767676" stroke-width="1.0"/>
<line x1="469.22" y1="208.5" x2="469.22" y2="206.7" stroke="#767676" stroke-width="1.0"/>
<line x1="469.22" y1="12.45" x2="469.22" y2="14.25" stroke="#767676" stroke-width="1.0"/>
<line x1="486.06" y1="208.5" x2="486.06" y2="206.7" stroke="#767676" stroke-width="1.0"/>
<line x1="486.06" y1="12.45" x2="486.06" y2="14.25" stroke="#767676" stroke-width="1.0"/>
<line x1="509.79" y1="208.5" x2="509.79" y2="206.7" stroke="#767676" stroke-width="1.0"/>
<line x1="509.79" y1="12.45" x2="509.79" y2="14.25" stroke="#767676" stroke-width="1.0"/>
<line x1="518.82" y1="208.5" x2="518.82" y2="206.7" stroke="#767676" stroke-width="1.0"/>
<line x1="518.82" y1="12.45" x2="518.82" y2="14.25" stroke="#767676" stroke-width="1.0"/>
<line x1="526.64" y1="208.5" x2="526.64" y2="206.7" stroke="#767676" stroke-width="1.0"/>
<line x1="526.64" y1="12.45" x2="526.64" y2="14.25" stroke="#767676" stroke-width="1.0"/>
<line x1="533.53" y1="208.5" x2="533.53" y2="206.7" stroke="#767676" stroke-width="1.0"/>
<line x1="533.53" y1="12.45" x2="533.53" y2="14.25" stroke="#767676" stroke-width="1.0"/>
<line x1="580.28" y1="208.5" x2="580.28" y2="206.7" stroke="#767676" stroke-width="1.0"/>
<line x1="580.28" y1="12.45" x2="580.28" y2="14.25" stroke="#767676" stroke-width="1.0"/>
<line x1="604.02" y1="208.5" x2="604.02" y2="206.7" stroke="#767676" stroke-width="1.0"/>
<line x1="604.02" y1="12.45" x2="604.02" y2="14.25" stroke="#767676" stroke-width="1.0"/>
<line x1="620.86" y1="208.5" x2="620.86" y2="206.7" stroke="#767676" stroke-width="1.0"/>
<line x1="620.86" y1="12.45" x2="620.86" y2="14.25" stroke="#767676" stroke-width="1.0"/>
<line x1="644.59" y1="208.5" x2="644.59" y2="206.7" stroke="#767676" stroke-width="1.0"/>
<line x1="644.59" y1="12.45" x2="644.59" y2="14.25" stroke="#767676" stroke-width="1.0"/>
<line x1="653.62" y1="208.5" x2="653.62" y2="206.7" stroke="#767676" stroke-width="1.0"/>
<line x1="653.62" y1="12.45" x2="653.62" y2="14.25" stroke="#767676" stroke-width="1.0"/>
<line x1="661.44" y1="208.5" x2="661.44" y2="206.7" stroke="#767676" stroke-width="1.0"/>
<line x1="661.44" y1="12.45" x2="661.44" y2="14.25" stroke="#767676" stroke-width="1.0"/>
<line x1="668.33" y1="208.5" x2="668.33" y2="206.7" stroke="#767676" stroke-width="1.0"/>
<line x1="668.33" y1="12.45" x2="668.33" y2="14.25" stroke="#767676" stroke-width="1.0"/>
<line x1="404.9" y1="12.45" x2="407.9" y2="12.45" stroke="#767676" stroke-width="1.0"/>
<line x1="674.5" y1="12.45" x2="671.5" y2="12.45" stroke="#767676" stroke-width="1.0"/>
<text x="399.5" y="17.95" font-size="13.7" text-anchor="end" fill="#262626">0</text>
<line x1="404.9" y1="45.12" x2="407.9" y2="45.12" stroke="#767676" stroke-width="1.0"/>
<line x1="674.5" y1="45.12" x2="671.5" y2="45.12" stroke="#767676" stroke-width="1.0"/>
<text x="399.5" y="50.62" font-size="13.7" text-anchor="end" fill="#262626">-10</text>
<line x1="404.9" y1="77.8" x2="407.9" y2="77.8" stroke="#767676" stroke-width="1.0"/>
<line x1="674.5" y1="77.8" x2="671.5" y2="77.8" stroke="#767676" stroke-width="1.0"/>
<text x="399.5" y="83.3" font-size="13.7" text-anchor="end" fill="#262626">-20</text>
<line x1="404.9" y1="110.48" x2="407.9" y2="110.48" stroke="#767676" stroke-width="1.0"/>
<line x1="674.5" y1="110.48" x2="671.5" y2="110.48" stroke="#767676" stroke-width="1.0"/>
<text x="399.5" y="115.98" font-size="13.7" text-anchor="end" fill="#262626">-30</text>
<line x1="404.9" y1="143.15" x2="407.9" y2="143.15" stroke="#767676" stroke-width="1.0"/>
<line x1="674.5" y1="143.15" x2="671.5" y2="143.15" stroke="#767676" stroke-width="1.0"/>
<text x="399.5" y="148.65" font-size="13.7" text-anchor="end" fill="#262626">-40</text>
<line x1="404.9" y1="175.83" x2="407.9" y2="175.83" stroke="#767676" stroke-width="1.0"/>
<line x1="674.5" y1="175.83" x2="671.5" y2="175.83" stroke="#767676" stroke-width="1.0"/>
<text x="399.5" y="181.33" font-size="13.7" text-anchor="end" fill="#262626">-50</text>
<line x1="404.9" y1="208.5" x2="407.9" y2="208.5" stroke="#767676" stroke-width="1.0"/>
<line x1="674.5" y1="208.5" x2="671.5" y2="208.5" stroke="#767676" stroke-width="1.0"/>
<text x="399.5" y="214" font-size="13.7" text-anchor="end" fill="#262626">-60</text>
<text x="404.9" y="228.3" font-size="13.7" text-anchor="middle" fill="#262626">0.1</text>
<text x="458.54" y="228.3" font-size="13.7" text-anchor="middle" fill="#262626">0.25</text>
<text x="499.12" y="228.3" font-size="13.7" text-anchor="middle" fill="#262626">0.5</text>
<text x="539.7" y="228.3" font-size="13.7" text-anchor="middle" fill="#262626">1</text>
<text x="593.34" y="228.3" font-size="13.7" text-anchor="middle" fill="#262626">2.5</text>
<text x="633.92" y="228.3" font-size="13.7" text-anchor="middle" fill="#262626">5</text>
<text x="674.5" y="228.3" font-size="13.7" text-anchor="middle" fill="#262626">10</text>
<text x="540.3" y="248.6" font-size="15.7" text-anchor="middle" fill="#262626">Distance (cm)</text>
<text transform="translate(374.3 110) rotate(-90)" font-size="15.8" text-anchor="middle" fill="#262626">Minimum (S21 (dB))</text>
<text x="441.6" y="189.3" font-size="16.5" text-anchor="start" fill="#000">(c)</text>
<path d="M405.1 452.3L446.1 401.2L470.1 378.3L487.1 365.6L500.3 356.6L511.1 353.3L520.2 350.4L528.1 350.4L535.1 349.2L541.3 349.2L582.3 359L606.3 368L623.3 370.1L636.5 362.7L647.3 349.2L656.4 325.1L664.3 301.3L671.3 285L677.5 284.2" fill="none" stroke="#3c8fcf" stroke-width="1"/>
<circle cx="405.1" cy="452.33" r="4.9" fill="none" stroke="#3c8fcf" stroke-width="1"/>
<circle cx="446.1" cy="401.18" r="4.9" fill="none" stroke="#3c8fcf" stroke-width="1"/>
<circle cx="470.08" cy="378.27" r="4.9" fill="none" stroke="#3c8fcf" stroke-width="1"/>
<circle cx="487.1" cy="365.58" r="4.9" fill="none" stroke="#3c8fcf" stroke-width="1"/>
<circle cx="500.3" cy="356.58" r="4.9" fill="none" stroke="#3c8fcf" stroke-width="1"/>
<circle cx="511.08" cy="353.31" r="4.9" fill="none" stroke="#3c8fcf" stroke-width="1"/>
<circle cx="520.2" cy="350.44" r="4.9" fill="none" stroke="#3c8fcf" stroke-width="1"/>
<circle cx="528.1" cy="350.44" r="4.9" fill="none" stroke="#3c8fcf" stroke-width="1"/>
<circle cx="535.07" cy="349.21" r="4.9" fill="none" stroke="#3c8fcf" stroke-width="1"/>
<circle cx="541.3" cy="349.21" r="4.9" fill="none" stroke="#3c8fcf" stroke-width="1"/>
<circle cx="582.3" cy="359.04" r="4.9" fill="none" stroke="#3c8fcf" stroke-width="1"/>
<circle cx="606.28" cy="368.04" r="4.9" fill="none" stroke="#3c8fcf" stroke-width="1"/>
<circle cx="623.3" cy="370.08" r="4.9" fill="none" stroke="#3c8fcf" stroke-width="1"/>
<circle cx="636.5" cy="362.72" r="4.9" fill="none" stroke="#3c8fcf" stroke-width="1"/>
<circle cx="647.28" cy="349.21" r="4.9" fill="none" stroke="#3c8fcf" stroke-width="1"/>
<circle cx="656.4" cy="325.07" r="4.9" fill="none" stroke="#3c8fcf" stroke-width="1"/>
<circle cx="664.3" cy="301.34" r="4.9" fill="none" stroke="#3c8fcf" stroke-width="1"/>
<circle cx="671.27" cy="284.97" r="4.9" fill="none" stroke="#3c8fcf" stroke-width="1"/>
<circle cx="677.5" cy="284.15" r="4.9" fill="none" stroke="#3c8fcf" stroke-width="1"/>
<rect x="405.1" y="259.6" width="272.4" height="204.6" fill="none" stroke="#767676" stroke-width="1"/>
<line x1="405.1" y1="464.2" x2="405.1" y2="461.2" stroke="#767676" stroke-width="1.0"/>
<line x1="405.1" y1="259.6" x2="405.1" y2="262.6" stroke="#767676" stroke-width="1.0"/>
<line x1="459.3" y1="464.2" x2="459.3" y2="461.2" stroke="#767676" stroke-width="1.0"/>
<line x1="459.3" y1="259.6" x2="459.3" y2="262.6" stroke="#767676" stroke-width="1.0"/>
<line x1="500.3" y1="464.2" x2="500.3" y2="461.2" stroke="#767676" stroke-width="1.0"/>
<line x1="500.3" y1="259.6" x2="500.3" y2="262.6" stroke="#767676" stroke-width="1.0"/>
<line x1="541.3" y1="464.2" x2="541.3" y2="461.2" stroke="#767676" stroke-width="1.0"/>
<line x1="541.3" y1="259.6" x2="541.3" y2="262.6" stroke="#767676" stroke-width="1.0"/>
<line x1="595.5" y1="464.2" x2="595.5" y2="461.2" stroke="#767676" stroke-width="1.0"/>
<line x1="595.5" y1="259.6" x2="595.5" y2="262.6" stroke="#767676" stroke-width="1.0"/>
<line x1="636.5" y1="464.2" x2="636.5" y2="461.2" stroke="#767676" stroke-width="1.0"/>
<line x1="636.5" y1="259.6" x2="636.5" y2="262.6" stroke="#767676" stroke-width="1.0"/>
<line x1="677.5" y1="464.2" x2="677.5" y2="461.2" stroke="#767676" stroke-width="1.0"/>
<line x1="677.5" y1="259.6" x2="677.5" y2="262.6" stroke="#767676" stroke-width="1.0"/>
<line x1="446.1" y1="464.2" x2="446.1" y2="462.4" stroke="#767676" stroke-width="1.0"/>
<line x1="446.1" y1="259.6" x2="446.1" y2="261.4" stroke="#767676" stroke-width="1.0"/>
<line x1="470.08" y1="464.2" x2="470.08" y2="462.4" stroke="#767676" stroke-width="1.0"/>
<line x1="470.08" y1="259.6" x2="470.08" y2="261.4" stroke="#767676" stroke-width="1.0"/>
<line x1="487.1" y1="464.2" x2="487.1" y2="462.4" stroke="#767676" stroke-width="1.0"/>
<line x1="487.1" y1="259.6" x2="487.1" y2="261.4" stroke="#767676" stroke-width="1.0"/>
<line x1="511.08" y1="464.2" x2="511.08" y2="462.4" stroke="#767676" stroke-width="1.0"/>
<line x1="511.08" y1="259.6" x2="511.08" y2="261.4" stroke="#767676" stroke-width="1.0"/>
<line x1="520.2" y1="464.2" x2="520.2" y2="462.4" stroke="#767676" stroke-width="1.0"/>
<line x1="520.2" y1="259.6" x2="520.2" y2="261.4" stroke="#767676" stroke-width="1.0"/>
<line x1="528.1" y1="464.2" x2="528.1" y2="462.4" stroke="#767676" stroke-width="1.0"/>
<line x1="528.1" y1="259.6" x2="528.1" y2="261.4" stroke="#767676" stroke-width="1.0"/>
<line x1="535.07" y1="464.2" x2="535.07" y2="462.4" stroke="#767676" stroke-width="1.0"/>
<line x1="535.07" y1="259.6" x2="535.07" y2="261.4" stroke="#767676" stroke-width="1.0"/>
<line x1="582.3" y1="464.2" x2="582.3" y2="462.4" stroke="#767676" stroke-width="1.0"/>
<line x1="582.3" y1="259.6" x2="582.3" y2="261.4" stroke="#767676" stroke-width="1.0"/>
<line x1="606.28" y1="464.2" x2="606.28" y2="462.4" stroke="#767676" stroke-width="1.0"/>
<line x1="606.28" y1="259.6" x2="606.28" y2="261.4" stroke="#767676" stroke-width="1.0"/>
<line x1="623.3" y1="464.2" x2="623.3" y2="462.4" stroke="#767676" stroke-width="1.0"/>
<line x1="623.3" y1="259.6" x2="623.3" y2="261.4" stroke="#767676" stroke-width="1.0"/>
<line x1="647.28" y1="464.2" x2="647.28" y2="462.4" stroke="#767676" stroke-width="1.0"/>
<line x1="647.28" y1="259.6" x2="647.28" y2="261.4" stroke="#767676" stroke-width="1.0"/>
<line x1="656.4" y1="464.2" x2="656.4" y2="462.4" stroke="#767676" stroke-width="1.0"/>
<line x1="656.4" y1="259.6" x2="656.4" y2="261.4" stroke="#767676" stroke-width="1.0"/>
<line x1="664.3" y1="464.2" x2="664.3" y2="462.4" stroke="#767676" stroke-width="1.0"/>
<line x1="664.3" y1="259.6" x2="664.3" y2="261.4" stroke="#767676" stroke-width="1.0"/>
<line x1="671.27" y1="464.2" x2="671.27" y2="462.4" stroke="#767676" stroke-width="1.0"/>
<line x1="671.27" y1="259.6" x2="671.27" y2="261.4" stroke="#767676" stroke-width="1.0"/>
<line x1="405.1" y1="259.6" x2="408.1" y2="259.6" stroke="#767676" stroke-width="1.0"/>
<line x1="677.5" y1="259.6" x2="674.5" y2="259.6" stroke="#767676" stroke-width="1.0"/>
<text x="399.5" y="265.1" font-size="13.7" text-anchor="end" fill="#262626">1.7</text>
<line x1="405.1" y1="300.52" x2="408.1" y2="300.52" stroke="#767676" stroke-width="1.0"/>
<line x1="677.5" y1="300.52" x2="674.5" y2="300.52" stroke="#767676" stroke-width="1.0"/>
<text x="399.5" y="306.02" font-size="13.7" text-anchor="end" fill="#262626">1.6</text>
<line x1="405.1" y1="341.44" x2="408.1" y2="341.44" stroke="#767676" stroke-width="1.0"/>
<line x1="677.5" y1="341.44" x2="674.5" y2="341.44" stroke="#767676" stroke-width="1.0"/>
<text x="399.5" y="346.94" font-size="13.7" text-anchor="end" fill="#262626">1.5</text>
<line x1="405.1" y1="382.36" x2="408.1" y2="382.36" stroke="#767676" stroke-width="1.0"/>
<line x1="677.5" y1="382.36" x2="674.5" y2="382.36" stroke="#767676" stroke-width="1.0"/>
<text x="399.5" y="387.86" font-size="13.7" text-anchor="end" fill="#262626">1.4</text>
<line x1="405.1" y1="423.28" x2="408.1" y2="423.28" stroke="#767676" stroke-width="1.0"/>
<line x1="677.5" y1="423.28" x2="674.5" y2="423.28" stroke="#767676" stroke-width="1.0"/>
<text x="399.5" y="428.78" font-size="13.7" text-anchor="end" fill="#262626">1.3</text>
<line x1="405.1" y1="464.2" x2="408.1" y2="464.2" stroke="#767676" stroke-width="1.0"/>
<line x1="677.5" y1="464.2" x2="674.5" y2="464.2" stroke="#767676" stroke-width="1.0"/>
<text x="399.5" y="469.7" font-size="13.7" text-anchor="end" fill="#262626">1.2</text>
<text x="405.1" y="483.4" font-size="13.7" text-anchor="middle" fill="#262626">0.1</text>
<text x="459.3" y="483.4" font-size="13.7" text-anchor="middle" fill="#262626">0.25</text>
<text x="500.3" y="483.4" font-size="13.7" text-anchor="middle" fill="#262626">0.5</text>
<text x="541.3" y="483.4" font-size="13.7" text-anchor="middle" fill="#262626">1</text>
<text x="595.5" y="483.4" font-size="13.7" text-anchor="middle" fill="#262626">2.5</text>
<text x="636.5" y="483.4" font-size="13.7" text-anchor="middle" fill="#262626">5</text>
<text x="677.5" y="483.4" font-size="13.7" text-anchor="middle" fill="#262626">10</text>
<text x="540.3" y="503.6" font-size="15.7" text-anchor="middle" fill="#262626">Distance (cm)</text>
<text transform="translate(374.3 361.7) rotate(-90)" font-size="15.8" text-anchor="middle" fill="#262626">Resonance Frequency (GHz)</text>
<text x="441.8" y="447.5" font-size="16.5" text-anchor="start" fill="#000">(d)</text>
</svg>
</body></html>
